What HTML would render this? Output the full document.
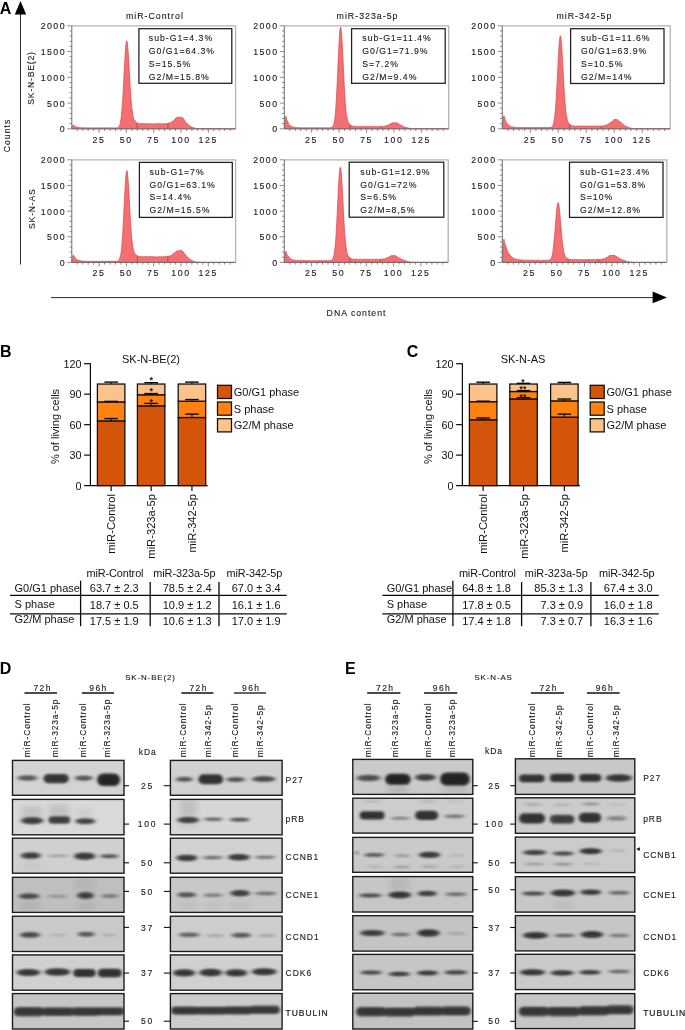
<!DOCTYPE html>
<html><head><meta charset="utf-8"><title>Figure</title>
<style>html,body{margin:0;padding:0;background:#fff}svg{display:block}text{font-family:"Liberation Sans",Arial,sans-serif}</style>
</head><body>
<svg width="685" height="1030" viewBox="0 0 685 1030">
<rect width="685" height="1030" fill="#fff"/>
<line x1="20.50" y1="10.00" x2="20.50" y2="264.50" stroke="#111" stroke-width="0.9" />
<path d="M20.5 1 L26.2 14.5 L14.8 14.5 Z" fill="#000"/>
<text x="-0.30" y="13.60" font-size="16" text-anchor="start" fill="#000" font-weight="bold" >A</text>
<text x="10.00" y="135.50" font-size="8.7" text-anchor="middle" fill="#1a1a1a" letter-spacing="1.0" stroke="#1a1a1a" stroke-width="0.12" transform="rotate(-90 10.00 135.50)" >Counts</text>
<text x="34.20" y="78.00" font-size="8.7" text-anchor="middle" fill="#1a1a1a" letter-spacing="0.75" stroke="#1a1a1a" stroke-width="0.12" transform="rotate(-90 34.20 78.00)" >SK-N-BE(2)</text>
<text x="34.90" y="208.70" font-size="8.7" text-anchor="middle" fill="#1a1a1a" letter-spacing="0.75" stroke="#1a1a1a" stroke-width="0.12" transform="rotate(-90 34.90 208.70)" >SK-N-AS</text>
<line x1="51.00" y1="297.60" x2="655.00" y2="297.60" stroke="#111" stroke-width="0.9" />
<path d="M667 297.4 L652.6 291.6 L652.6 303.2 Z" fill="#000"/>
<text x="356.50" y="315.70" font-size="8.7" text-anchor="middle" fill="#1a1a1a" letter-spacing="1.0" stroke="#1a1a1a" stroke-width="0.12" >DNA content</text>
<text x="154.90" y="19.30" font-size="8.8" text-anchor="middle" fill="#1a1a1a" letter-spacing="1.0" stroke="#1a1a1a" stroke-width="0.12" >miR-Control</text>
<text x="367.50" y="19.30" font-size="8.8" text-anchor="middle" fill="#1a1a1a" letter-spacing="1.0" stroke="#1a1a1a" stroke-width="0.12" >miR-323a-5p</text>
<text x="584.40" y="19.30" font-size="8.8" text-anchor="middle" fill="#1a1a1a" letter-spacing="1.0" stroke="#1a1a1a" stroke-width="0.12" >miR-342-5p</text>
<path d="M71.80 128.80 L71.80 127.89 L72.35 126.68 L72.89 125.23 L73.44 124.99 L73.98 125.33 L74.53 125.85 L75.08 126.32 L75.62 126.48 L76.17 126.85 L76.71 126.96 L77.26 127.20 L77.81 127.33 L78.35 127.38 L78.90 127.40 L79.44 127.59 L79.99 127.63 L80.54 127.63 L81.08 127.63 L81.63 127.71 L82.17 127.76 L82.72 127.71 L83.27 127.84 L83.81 127.76 L84.36 127.84 L84.90 127.87 L85.45 127.88 L86.00 127.86 L86.54 127.81 L87.09 127.89 L87.63 127.85 L88.18 127.84 L88.73 127.88 L89.27 127.86 L89.82 127.91 L90.36 127.92 L90.91 127.90 L91.46 127.85 L92.00 127.88 L92.55 127.89 L93.09 127.86 L93.64 127.88 L94.19 127.89 L94.73 127.84 L95.28 127.85 L95.82 127.90 L96.37 127.86 L96.92 127.87 L97.46 127.83 L98.01 127.85 L98.55 127.90 L99.10 127.82 L99.65 127.92 L100.19 127.88 L100.74 127.84 L101.28 127.91 L101.83 127.87 L102.38 127.92 L102.92 127.85 L103.47 127.84 L104.01 127.86 L104.56 127.83 L105.11 127.89 L105.65 127.85 L106.20 127.86 L106.74 127.86 L107.29 127.88 L107.84 127.84 L108.38 127.82 L108.93 127.88 L109.47 127.85 L110.02 127.92 L110.57 127.85 L111.11 127.86 L111.66 127.82 L112.20 127.84 L112.75 127.90 L113.30 127.89 L113.84 127.85 L114.39 127.92 L114.93 127.87 L115.48 127.90 L116.03 127.89 L116.57 127.86 L117.12 127.70 L117.66 127.65 L118.21 127.39 L118.76 126.90 L119.30 125.95 L119.85 124.95 L120.39 122.71 L120.94 119.52 L121.49 114.54 L122.03 108.48 L122.58 101.66 L123.12 92.54 L123.67 82.24 L124.22 71.40 L124.76 60.91 L125.31 51.76 L125.85 44.94 L126.40 41.21 L126.95 40.96 L127.49 44.10 L128.04 50.16 L128.58 58.35 L129.13 67.77 L129.68 77.56 L130.22 86.95 L130.77 95.37 L131.31 102.45 L131.86 108.10 L132.41 111.69 L132.95 115.91 L133.50 117.91 L134.04 119.54 L134.59 120.10 L135.14 120.86 L135.68 122.14 L136.23 122.54 L136.77 122.81 L137.32 123.06 L137.87 123.08 L138.41 123.17 L138.96 123.50 L139.50 123.76 L140.05 123.55 L140.60 123.63 L141.14 123.54 L141.69 123.32 L142.23 123.50 L142.78 123.62 L143.33 123.57 L143.87 123.53 L144.42 123.92 L144.96 123.40 L145.51 123.48 L146.06 123.42 L146.60 123.47 L147.15 123.72 L147.69 123.71 L148.24 123.89 L148.79 123.57 L149.33 123.92 L149.88 123.92 L150.42 123.83 L150.97 123.86 L151.52 123.75 L152.06 123.93 L152.61 123.96 L153.15 123.87 L153.70 123.90 L154.25 123.73 L154.79 123.94 L155.34 123.42 L155.88 123.58 L156.43 123.87 L156.98 123.80 L157.52 123.74 L158.07 123.73 L158.61 123.88 L159.16 123.43 L159.71 123.34 L160.25 123.67 L160.80 123.66 L161.34 123.90 L161.89 123.89 L162.44 123.74 L162.98 123.79 L163.53 123.43 L164.07 123.84 L164.62 123.92 L165.17 123.33 L165.71 123.57 L166.26 123.78 L166.80 123.49 L167.35 123.77 L167.90 123.37 L168.44 122.98 L168.99 122.93 L169.53 122.88 L170.08 123.00 L170.63 122.69 L171.17 122.57 L171.72 121.76 L172.26 121.57 L172.81 120.93 L173.36 120.89 L173.90 120.52 L174.45 119.41 L174.99 118.70 L175.54 118.36 L176.09 117.96 L176.63 117.54 L177.18 117.28 L177.72 117.69 L178.27 117.05 L178.82 117.11 L179.36 117.49 L179.91 117.49 L180.45 117.21 L181.00 117.43 L181.55 117.12 L182.09 117.18 L182.64 118.34 L183.18 118.31 L183.73 118.91 L184.28 119.65 L184.82 120.93 L185.37 121.74 L185.91 122.39 L186.46 123.04 L187.01 123.63 L187.55 123.94 L188.10 124.34 L188.64 124.88 L189.19 125.48 L189.74 125.82 L190.28 126.14 L190.83 126.67 L191.37 126.82 L191.92 127.03 L192.47 127.31 L193.01 127.54 L193.56 127.77 L194.10 127.97 L194.65 128.06 L195.20 128.23 L195.74 128.31 L196.29 128.40 L196.83 128.51 L197.38 128.57 L197.93 128.61 L198.47 128.66 L199.02 128.70 L199.56 128.72 L200.11 128.74 L200.66 128.75 L201.20 128.76 L201.75 128.77 L202.29 128.78 L202.84 128.78 L203.39 128.79 L203.93 128.79 L204.48 128.79 L205.02 128.80 L205.57 128.80 L206.12 128.80 L206.66 128.80 L207.21 128.80 L207.75 128.80 L208.30 128.80 L208.85 128.80 L209.39 128.80 L209.94 128.80 L210.48 128.80 L211.03 128.80 L211.58 128.80 L212.12 128.80 L212.67 128.80 L213.21 128.80 L213.76 128.80 L214.31 128.80 L214.85 128.80 L215.40 128.80 L215.94 128.80 L216.49 128.80 L217.04 128.80 L217.58 128.80 L218.13 128.80 L218.67 128.80 L219.22 128.80 L219.77 128.80 L220.31 128.80 L220.86 128.80 L221.40 128.80 L221.95 128.80 L222.50 128.80 L223.04 128.80 L223.59 128.80 L224.13 128.80 L224.68 128.80 L225.23 128.80 L225.77 128.80 L226.32 128.80 L226.86 128.80 L227.41 128.80 L227.96 128.80 L228.50 128.80 L229.05 128.80 L229.59 128.80 L230.14 128.80 L230.69 128.80 L231.23 128.80 L231.78 128.80 L232.32 128.80 L232.87 128.80 L233.42 128.80 L233.96 128.80 L234.51 128.80 L235.05 128.80 L235.60 128.80 L235.60 128.80 Z" fill="#f36f71" stroke="#dc4247" stroke-width="0.7" stroke-linejoin="round"/>
<line x1="137.32" y1="123.36" x2="137.32" y2="128.50" stroke="#c9343a" stroke-width="0.8" />
<line x1="167.90" y1="123.67" x2="167.90" y2="128.50" stroke="#c9343a" stroke-width="0.8" />
<path d="M71.80 25.80 H235.60 V128.80" fill="none" stroke="#b4b4b4" stroke-width="1.3"/>
<path d="M71.80 25.80 V128.80 H235.60" fill="none" stroke="#6e6e6e" stroke-width="1"/>
<line x1="67.30" y1="128.80" x2="71.80" y2="128.80" stroke="#6e6e6e" stroke-width="0.8" />
<line x1="69.50" y1="123.65" x2="71.80" y2="123.65" stroke="#6e6e6e" stroke-width="0.8" />
<line x1="69.50" y1="118.50" x2="71.80" y2="118.50" stroke="#6e6e6e" stroke-width="0.8" />
<line x1="69.50" y1="113.35" x2="71.80" y2="113.35" stroke="#6e6e6e" stroke-width="0.8" />
<line x1="69.50" y1="108.20" x2="71.80" y2="108.20" stroke="#6e6e6e" stroke-width="0.8" />
<line x1="67.30" y1="103.05" x2="71.80" y2="103.05" stroke="#6e6e6e" stroke-width="0.8" />
<line x1="69.50" y1="97.90" x2="71.80" y2="97.90" stroke="#6e6e6e" stroke-width="0.8" />
<line x1="69.50" y1="92.75" x2="71.80" y2="92.75" stroke="#6e6e6e" stroke-width="0.8" />
<line x1="69.50" y1="87.60" x2="71.80" y2="87.60" stroke="#6e6e6e" stroke-width="0.8" />
<line x1="69.50" y1="82.45" x2="71.80" y2="82.45" stroke="#6e6e6e" stroke-width="0.8" />
<line x1="67.30" y1="77.30" x2="71.80" y2="77.30" stroke="#6e6e6e" stroke-width="0.8" />
<line x1="69.50" y1="72.15" x2="71.80" y2="72.15" stroke="#6e6e6e" stroke-width="0.8" />
<line x1="69.50" y1="67.00" x2="71.80" y2="67.00" stroke="#6e6e6e" stroke-width="0.8" />
<line x1="69.50" y1="61.85" x2="71.80" y2="61.85" stroke="#6e6e6e" stroke-width="0.8" />
<line x1="69.50" y1="56.70" x2="71.80" y2="56.70" stroke="#6e6e6e" stroke-width="0.8" />
<line x1="67.30" y1="51.55" x2="71.80" y2="51.55" stroke="#6e6e6e" stroke-width="0.8" />
<line x1="69.50" y1="46.40" x2="71.80" y2="46.40" stroke="#6e6e6e" stroke-width="0.8" />
<line x1="69.50" y1="41.25" x2="71.80" y2="41.25" stroke="#6e6e6e" stroke-width="0.8" />
<line x1="69.50" y1="36.10" x2="71.80" y2="36.10" stroke="#6e6e6e" stroke-width="0.8" />
<line x1="69.50" y1="30.95" x2="71.80" y2="30.95" stroke="#6e6e6e" stroke-width="0.8" />
<line x1="67.30" y1="25.80" x2="71.80" y2="25.80" stroke="#6e6e6e" stroke-width="0.8" />
<text x="66.00" y="132.40" font-size="8.8" text-anchor="end" fill="#1a1a1a" letter-spacing="1.45" stroke="#1a1a1a" stroke-width="0.12" >0</text>
<text x="66.00" y="106.65" font-size="8.8" text-anchor="end" fill="#1a1a1a" letter-spacing="1.45" stroke="#1a1a1a" stroke-width="0.12" >500</text>
<text x="66.00" y="80.90" font-size="8.8" text-anchor="end" fill="#1a1a1a" letter-spacing="1.45" stroke="#1a1a1a" stroke-width="0.12" >1000</text>
<text x="66.00" y="55.15" font-size="8.8" text-anchor="end" fill="#1a1a1a" letter-spacing="1.45" stroke="#1a1a1a" stroke-width="0.12" >1500</text>
<text x="66.00" y="29.40" font-size="8.8" text-anchor="end" fill="#1a1a1a" letter-spacing="1.45" stroke="#1a1a1a" stroke-width="0.12" >2000</text>
<line x1="77.26" y1="128.80" x2="77.26" y2="131.00" stroke="#6e6e6e" stroke-width="0.8" />
<line x1="82.72" y1="128.80" x2="82.72" y2="131.00" stroke="#6e6e6e" stroke-width="0.8" />
<line x1="88.18" y1="128.80" x2="88.18" y2="131.00" stroke="#6e6e6e" stroke-width="0.8" />
<line x1="93.64" y1="128.80" x2="93.64" y2="131.00" stroke="#6e6e6e" stroke-width="0.8" />
<line x1="99.10" y1="128.80" x2="99.10" y2="132.80" stroke="#6e6e6e" stroke-width="0.8" />
<line x1="104.56" y1="128.80" x2="104.56" y2="131.00" stroke="#6e6e6e" stroke-width="0.8" />
<line x1="110.02" y1="128.80" x2="110.02" y2="131.00" stroke="#6e6e6e" stroke-width="0.8" />
<line x1="115.48" y1="128.80" x2="115.48" y2="131.00" stroke="#6e6e6e" stroke-width="0.8" />
<line x1="120.94" y1="128.80" x2="120.94" y2="131.00" stroke="#6e6e6e" stroke-width="0.8" />
<line x1="126.40" y1="128.80" x2="126.40" y2="132.80" stroke="#6e6e6e" stroke-width="0.8" />
<line x1="131.86" y1="128.80" x2="131.86" y2="131.00" stroke="#6e6e6e" stroke-width="0.8" />
<line x1="137.32" y1="128.80" x2="137.32" y2="131.00" stroke="#6e6e6e" stroke-width="0.8" />
<line x1="142.78" y1="128.80" x2="142.78" y2="131.00" stroke="#6e6e6e" stroke-width="0.8" />
<line x1="148.24" y1="128.80" x2="148.24" y2="131.00" stroke="#6e6e6e" stroke-width="0.8" />
<line x1="153.70" y1="128.80" x2="153.70" y2="132.80" stroke="#6e6e6e" stroke-width="0.8" />
<line x1="159.16" y1="128.80" x2="159.16" y2="131.00" stroke="#6e6e6e" stroke-width="0.8" />
<line x1="164.62" y1="128.80" x2="164.62" y2="131.00" stroke="#6e6e6e" stroke-width="0.8" />
<line x1="170.08" y1="128.80" x2="170.08" y2="131.00" stroke="#6e6e6e" stroke-width="0.8" />
<line x1="175.54" y1="128.80" x2="175.54" y2="131.00" stroke="#6e6e6e" stroke-width="0.8" />
<line x1="181.00" y1="128.80" x2="181.00" y2="132.80" stroke="#6e6e6e" stroke-width="0.8" />
<line x1="186.46" y1="128.80" x2="186.46" y2="131.00" stroke="#6e6e6e" stroke-width="0.8" />
<line x1="191.92" y1="128.80" x2="191.92" y2="131.00" stroke="#6e6e6e" stroke-width="0.8" />
<line x1="197.38" y1="128.80" x2="197.38" y2="131.00" stroke="#6e6e6e" stroke-width="0.8" />
<line x1="202.84" y1="128.80" x2="202.84" y2="131.00" stroke="#6e6e6e" stroke-width="0.8" />
<line x1="208.30" y1="128.80" x2="208.30" y2="132.80" stroke="#6e6e6e" stroke-width="0.8" />
<line x1="213.76" y1="128.80" x2="213.76" y2="131.00" stroke="#6e6e6e" stroke-width="0.8" />
<line x1="219.22" y1="128.80" x2="219.22" y2="131.00" stroke="#6e6e6e" stroke-width="0.8" />
<line x1="224.68" y1="128.80" x2="224.68" y2="131.00" stroke="#6e6e6e" stroke-width="0.8" />
<line x1="230.14" y1="128.80" x2="230.14" y2="131.00" stroke="#6e6e6e" stroke-width="0.8" />
<text x="99.00" y="142.60" font-size="8.8" text-anchor="middle" fill="#1a1a1a" letter-spacing="1.6" stroke="#1a1a1a" stroke-width="0.12" >25</text>
<text x="126.30" y="142.60" font-size="8.8" text-anchor="middle" fill="#1a1a1a" letter-spacing="1.6" stroke="#1a1a1a" stroke-width="0.12" >50</text>
<text x="153.60" y="142.60" font-size="8.8" text-anchor="middle" fill="#1a1a1a" letter-spacing="1.6" stroke="#1a1a1a" stroke-width="0.12" >75</text>
<text x="180.90" y="142.60" font-size="8.8" text-anchor="middle" fill="#1a1a1a" letter-spacing="1.6" stroke="#1a1a1a" stroke-width="0.12" >100</text>
<text x="208.20" y="142.60" font-size="8.8" text-anchor="middle" fill="#1a1a1a" letter-spacing="1.6" stroke="#1a1a1a" stroke-width="0.12" >125</text>
<rect x="138.90" y="28.70" width="92.90" height="54.60" fill="#fff" stroke="#1e1e1e" stroke-width="1.25"/>
<text x="148.80" y="41.30" font-size="8.7" text-anchor="start" fill="#1a1a1a" letter-spacing="1.0" stroke="#1a1a1a" stroke-width="0.12" >sub-G1=4.3%</text>
<text x="148.80" y="54.10" font-size="8.7" text-anchor="start" fill="#1a1a1a" letter-spacing="1.0" stroke="#1a1a1a" stroke-width="0.12" >G0/G1=64.3%</text>
<text x="148.80" y="67.00" font-size="8.7" text-anchor="start" fill="#1a1a1a" letter-spacing="1.0" stroke="#1a1a1a" stroke-width="0.12" >S=15.5%</text>
<text x="148.80" y="79.70" font-size="8.7" text-anchor="start" fill="#1a1a1a" letter-spacing="1.0" stroke="#1a1a1a" stroke-width="0.12" >G2/M=15.8%</text>
<path d="M284.30 128.80 L284.30 127.72 L284.85 123.02 L285.40 118.08 L285.94 116.06 L286.49 119.00 L287.04 120.29 L287.59 121.32 L288.14 122.55 L288.68 123.92 L289.23 124.63 L289.78 125.07 L290.33 125.70 L290.88 126.03 L291.42 126.40 L291.97 126.50 L292.52 126.70 L293.07 126.86 L293.62 127.17 L294.16 127.18 L294.71 127.29 L295.26 127.46 L295.81 127.41 L296.36 127.45 L296.90 127.61 L297.45 127.54 L298.00 127.65 L298.55 127.66 L299.10 127.61 L299.64 127.65 L300.19 127.75 L300.74 127.73 L301.29 127.73 L301.84 127.76 L302.38 127.78 L302.93 127.77 L303.48 127.72 L304.03 127.82 L304.58 127.75 L305.12 127.77 L305.67 127.82 L306.22 127.78 L306.77 127.75 L307.32 127.76 L307.86 127.82 L308.41 127.71 L308.96 127.73 L309.51 127.71 L310.06 127.82 L310.60 127.80 L311.15 127.83 L311.70 127.73 L312.25 127.80 L312.80 127.82 L313.34 127.78 L313.89 127.72 L314.44 127.73 L314.99 127.80 L315.54 127.81 L316.08 127.72 L316.63 127.76 L317.18 127.75 L317.73 127.82 L318.28 127.82 L318.82 127.75 L319.37 127.78 L319.92 127.82 L320.47 127.72 L321.02 127.75 L321.56 127.73 L322.11 127.82 L322.66 127.73 L323.21 127.82 L323.76 127.73 L324.30 127.78 L324.85 127.79 L325.40 127.76 L325.95 127.72 L326.50 127.80 L327.04 127.82 L327.59 127.77 L328.14 127.80 L328.69 127.81 L329.24 127.80 L329.78 127.80 L330.33 127.74 L330.88 127.66 L331.43 127.52 L331.98 127.18 L332.52 126.80 L333.07 125.91 L333.62 124.68 L334.17 122.43 L334.72 119.55 L335.26 114.64 L335.81 107.69 L336.36 99.29 L336.91 89.06 L337.46 77.35 L338.00 64.85 L338.55 52.53 L339.10 41.55 L339.65 33.07 L340.20 28.07 L340.74 27.10 L341.29 30.24 L341.84 37.03 L342.39 46.61 L342.94 57.89 L343.48 69.74 L344.03 81.19 L344.58 91.48 L345.13 100.19 L345.68 107.16 L346.22 113.45 L346.77 116.08 L347.32 119.18 L347.87 121.49 L348.42 122.61 L348.96 123.29 L349.51 124.49 L350.06 124.65 L350.61 125.24 L351.16 125.53 L351.70 125.65 L352.25 126.00 L352.80 126.11 L353.35 126.16 L353.90 126.15 L354.44 126.40 L354.99 126.30 L355.54 126.37 L356.09 126.41 L356.64 126.49 L357.18 126.51 L357.73 126.60 L358.28 126.58 L358.83 126.60 L359.38 126.41 L359.92 126.55 L360.47 126.58 L361.02 126.60 L361.57 126.39 L362.12 126.38 L362.66 126.44 L363.21 126.54 L363.76 126.55 L364.31 126.54 L364.86 126.49 L365.40 126.58 L365.95 126.50 L366.50 126.55 L367.05 126.35 L367.60 126.35 L368.14 126.47 L368.69 126.55 L369.24 126.35 L369.79 126.54 L370.34 126.52 L370.88 126.62 L371.43 126.52 L371.98 126.49 L372.53 126.48 L373.08 126.57 L373.62 126.48 L374.17 126.62 L374.72 126.55 L375.27 126.60 L375.82 126.51 L376.36 126.61 L376.91 126.61 L377.46 126.53 L378.01 126.55 L378.56 126.45 L379.10 126.46 L379.65 126.39 L380.20 126.41 L380.75 126.38 L381.30 126.32 L381.84 126.43 L382.39 126.42 L382.94 126.19 L383.49 126.38 L384.04 126.14 L384.58 126.07 L385.13 126.17 L385.68 125.77 L386.23 125.58 L386.78 125.50 L387.32 125.25 L387.87 124.98 L388.42 125.04 L388.97 124.60 L389.52 124.33 L390.06 123.88 L390.61 123.62 L391.16 123.34 L391.71 123.26 L392.26 122.84 L392.80 122.80 L393.35 122.64 L393.90 122.88 L394.45 122.97 L395.00 122.89 L395.54 122.77 L396.09 123.06 L396.64 122.70 L397.19 123.10 L397.74 123.31 L398.28 123.59 L398.83 123.87 L399.38 124.30 L399.93 124.88 L400.48 124.82 L401.02 125.17 L401.57 125.58 L402.12 125.85 L402.67 126.09 L403.22 126.51 L403.76 126.56 L404.31 126.89 L404.86 127.12 L405.41 127.26 L405.96 127.35 L406.50 127.60 L407.05 127.67 L407.60 127.79 L408.15 127.98 L408.70 128.11 L409.24 128.21 L409.79 128.30 L410.34 128.39 L410.89 128.47 L411.44 128.53 L411.98 128.60 L412.53 128.64 L413.08 128.67 L413.63 128.70 L414.18 128.72 L414.72 128.74 L415.27 128.76 L415.82 128.77 L416.37 128.77 L416.92 128.78 L417.46 128.78 L418.01 128.79 L418.56 128.79 L419.11 128.79 L419.66 128.79 L420.20 128.80 L420.75 128.80 L421.30 128.80 L421.85 128.80 L422.40 128.80 L422.94 128.80 L423.49 128.80 L424.04 128.80 L424.59 128.80 L425.14 128.80 L425.68 128.80 L426.23 128.80 L426.78 128.80 L427.33 128.80 L427.88 128.80 L428.42 128.80 L428.97 128.80 L429.52 128.80 L430.07 128.80 L430.62 128.80 L431.16 128.80 L431.71 128.80 L432.26 128.80 L432.81 128.80 L433.36 128.80 L433.90 128.80 L434.45 128.80 L435.00 128.80 L435.55 128.80 L436.10 128.80 L436.64 128.80 L437.19 128.80 L437.74 128.80 L438.29 128.80 L438.84 128.80 L439.38 128.80 L439.93 128.80 L440.48 128.80 L441.03 128.80 L441.58 128.80 L442.12 128.80 L442.67 128.80 L443.22 128.80 L443.77 128.80 L444.32 128.80 L444.86 128.80 L445.41 128.80 L445.96 128.80 L446.51 128.80 L447.06 128.80 L447.60 128.80 L448.15 128.80 L448.70 128.80 L448.70 128.80 Z" fill="#f36f71" stroke="#dc4247" stroke-width="0.7" stroke-linejoin="round"/>
<line x1="350.06" y1="124.95" x2="350.06" y2="128.50" stroke="#c9343a" stroke-width="0.8" />
<line x1="380.75" y1="126.68" x2="380.75" y2="128.50" stroke="#c9343a" stroke-width="0.8" />
<path d="M284.30 25.80 H448.70 V128.80" fill="none" stroke="#b4b4b4" stroke-width="1.3"/>
<path d="M284.30 25.80 V128.80 H448.70" fill="none" stroke="#6e6e6e" stroke-width="1"/>
<line x1="279.80" y1="128.80" x2="284.30" y2="128.80" stroke="#6e6e6e" stroke-width="0.8" />
<line x1="282.00" y1="123.65" x2="284.30" y2="123.65" stroke="#6e6e6e" stroke-width="0.8" />
<line x1="282.00" y1="118.50" x2="284.30" y2="118.50" stroke="#6e6e6e" stroke-width="0.8" />
<line x1="282.00" y1="113.35" x2="284.30" y2="113.35" stroke="#6e6e6e" stroke-width="0.8" />
<line x1="282.00" y1="108.20" x2="284.30" y2="108.20" stroke="#6e6e6e" stroke-width="0.8" />
<line x1="279.80" y1="103.05" x2="284.30" y2="103.05" stroke="#6e6e6e" stroke-width="0.8" />
<line x1="282.00" y1="97.90" x2="284.30" y2="97.90" stroke="#6e6e6e" stroke-width="0.8" />
<line x1="282.00" y1="92.75" x2="284.30" y2="92.75" stroke="#6e6e6e" stroke-width="0.8" />
<line x1="282.00" y1="87.60" x2="284.30" y2="87.60" stroke="#6e6e6e" stroke-width="0.8" />
<line x1="282.00" y1="82.45" x2="284.30" y2="82.45" stroke="#6e6e6e" stroke-width="0.8" />
<line x1="279.80" y1="77.30" x2="284.30" y2="77.30" stroke="#6e6e6e" stroke-width="0.8" />
<line x1="282.00" y1="72.15" x2="284.30" y2="72.15" stroke="#6e6e6e" stroke-width="0.8" />
<line x1="282.00" y1="67.00" x2="284.30" y2="67.00" stroke="#6e6e6e" stroke-width="0.8" />
<line x1="282.00" y1="61.85" x2="284.30" y2="61.85" stroke="#6e6e6e" stroke-width="0.8" />
<line x1="282.00" y1="56.70" x2="284.30" y2="56.70" stroke="#6e6e6e" stroke-width="0.8" />
<line x1="279.80" y1="51.55" x2="284.30" y2="51.55" stroke="#6e6e6e" stroke-width="0.8" />
<line x1="282.00" y1="46.40" x2="284.30" y2="46.40" stroke="#6e6e6e" stroke-width="0.8" />
<line x1="282.00" y1="41.25" x2="284.30" y2="41.25" stroke="#6e6e6e" stroke-width="0.8" />
<line x1="282.00" y1="36.10" x2="284.30" y2="36.10" stroke="#6e6e6e" stroke-width="0.8" />
<line x1="282.00" y1="30.95" x2="284.30" y2="30.95" stroke="#6e6e6e" stroke-width="0.8" />
<line x1="279.80" y1="25.80" x2="284.30" y2="25.80" stroke="#6e6e6e" stroke-width="0.8" />
<text x="278.50" y="132.40" font-size="8.8" text-anchor="end" fill="#1a1a1a" letter-spacing="1.45" stroke="#1a1a1a" stroke-width="0.12" >0</text>
<text x="278.50" y="106.65" font-size="8.8" text-anchor="end" fill="#1a1a1a" letter-spacing="1.45" stroke="#1a1a1a" stroke-width="0.12" >500</text>
<text x="278.50" y="80.90" font-size="8.8" text-anchor="end" fill="#1a1a1a" letter-spacing="1.45" stroke="#1a1a1a" stroke-width="0.12" >1000</text>
<text x="278.50" y="55.15" font-size="8.8" text-anchor="end" fill="#1a1a1a" letter-spacing="1.45" stroke="#1a1a1a" stroke-width="0.12" >1500</text>
<text x="278.50" y="29.40" font-size="8.8" text-anchor="end" fill="#1a1a1a" letter-spacing="1.45" stroke="#1a1a1a" stroke-width="0.12" >2000</text>
<line x1="289.78" y1="128.80" x2="289.78" y2="131.00" stroke="#6e6e6e" stroke-width="0.8" />
<line x1="295.26" y1="128.80" x2="295.26" y2="131.00" stroke="#6e6e6e" stroke-width="0.8" />
<line x1="300.74" y1="128.80" x2="300.74" y2="131.00" stroke="#6e6e6e" stroke-width="0.8" />
<line x1="306.22" y1="128.80" x2="306.22" y2="131.00" stroke="#6e6e6e" stroke-width="0.8" />
<line x1="311.70" y1="128.80" x2="311.70" y2="132.80" stroke="#6e6e6e" stroke-width="0.8" />
<line x1="317.18" y1="128.80" x2="317.18" y2="131.00" stroke="#6e6e6e" stroke-width="0.8" />
<line x1="322.66" y1="128.80" x2="322.66" y2="131.00" stroke="#6e6e6e" stroke-width="0.8" />
<line x1="328.14" y1="128.80" x2="328.14" y2="131.00" stroke="#6e6e6e" stroke-width="0.8" />
<line x1="333.62" y1="128.80" x2="333.62" y2="131.00" stroke="#6e6e6e" stroke-width="0.8" />
<line x1="339.10" y1="128.80" x2="339.10" y2="132.80" stroke="#6e6e6e" stroke-width="0.8" />
<line x1="344.58" y1="128.80" x2="344.58" y2="131.00" stroke="#6e6e6e" stroke-width="0.8" />
<line x1="350.06" y1="128.80" x2="350.06" y2="131.00" stroke="#6e6e6e" stroke-width="0.8" />
<line x1="355.54" y1="128.80" x2="355.54" y2="131.00" stroke="#6e6e6e" stroke-width="0.8" />
<line x1="361.02" y1="128.80" x2="361.02" y2="131.00" stroke="#6e6e6e" stroke-width="0.8" />
<line x1="366.50" y1="128.80" x2="366.50" y2="132.80" stroke="#6e6e6e" stroke-width="0.8" />
<line x1="371.98" y1="128.80" x2="371.98" y2="131.00" stroke="#6e6e6e" stroke-width="0.8" />
<line x1="377.46" y1="128.80" x2="377.46" y2="131.00" stroke="#6e6e6e" stroke-width="0.8" />
<line x1="382.94" y1="128.80" x2="382.94" y2="131.00" stroke="#6e6e6e" stroke-width="0.8" />
<line x1="388.42" y1="128.80" x2="388.42" y2="131.00" stroke="#6e6e6e" stroke-width="0.8" />
<line x1="393.90" y1="128.80" x2="393.90" y2="132.80" stroke="#6e6e6e" stroke-width="0.8" />
<line x1="399.38" y1="128.80" x2="399.38" y2="131.00" stroke="#6e6e6e" stroke-width="0.8" />
<line x1="404.86" y1="128.80" x2="404.86" y2="131.00" stroke="#6e6e6e" stroke-width="0.8" />
<line x1="410.34" y1="128.80" x2="410.34" y2="131.00" stroke="#6e6e6e" stroke-width="0.8" />
<line x1="415.82" y1="128.80" x2="415.82" y2="131.00" stroke="#6e6e6e" stroke-width="0.8" />
<line x1="421.30" y1="128.80" x2="421.30" y2="132.80" stroke="#6e6e6e" stroke-width="0.8" />
<line x1="426.78" y1="128.80" x2="426.78" y2="131.00" stroke="#6e6e6e" stroke-width="0.8" />
<line x1="432.26" y1="128.80" x2="432.26" y2="131.00" stroke="#6e6e6e" stroke-width="0.8" />
<line x1="437.74" y1="128.80" x2="437.74" y2="131.00" stroke="#6e6e6e" stroke-width="0.8" />
<line x1="443.22" y1="128.80" x2="443.22" y2="131.00" stroke="#6e6e6e" stroke-width="0.8" />
<text x="311.60" y="142.60" font-size="8.8" text-anchor="middle" fill="#1a1a1a" letter-spacing="1.6" stroke="#1a1a1a" stroke-width="0.12" >25</text>
<text x="339.00" y="142.60" font-size="8.8" text-anchor="middle" fill="#1a1a1a" letter-spacing="1.6" stroke="#1a1a1a" stroke-width="0.12" >50</text>
<text x="366.40" y="142.60" font-size="8.8" text-anchor="middle" fill="#1a1a1a" letter-spacing="1.6" stroke="#1a1a1a" stroke-width="0.12" >75</text>
<text x="393.80" y="142.60" font-size="8.8" text-anchor="middle" fill="#1a1a1a" letter-spacing="1.6" stroke="#1a1a1a" stroke-width="0.12" >100</text>
<text x="421.20" y="142.60" font-size="8.8" text-anchor="middle" fill="#1a1a1a" letter-spacing="1.6" stroke="#1a1a1a" stroke-width="0.12" >125</text>
<rect x="351.60" y="28.70" width="93.60" height="54.60" fill="#fff" stroke="#1e1e1e" stroke-width="1.25"/>
<text x="362.30" y="41.30" font-size="8.7" text-anchor="start" fill="#1a1a1a" letter-spacing="1.0" stroke="#1a1a1a" stroke-width="0.12" >sub-G1=11.4%</text>
<text x="362.30" y="54.10" font-size="8.7" text-anchor="start" fill="#1a1a1a" letter-spacing="1.0" stroke="#1a1a1a" stroke-width="0.12" >G0/G1=71.9%</text>
<text x="362.30" y="67.00" font-size="8.7" text-anchor="start" fill="#1a1a1a" letter-spacing="1.0" stroke="#1a1a1a" stroke-width="0.12" >S=7.2%</text>
<text x="362.30" y="79.70" font-size="8.7" text-anchor="start" fill="#1a1a1a" letter-spacing="1.0" stroke="#1a1a1a" stroke-width="0.12" >G2/M=9.4%</text>
<path d="M502.30 128.80 L502.30 127.46 L502.86 122.63 L503.42 116.83 L503.98 115.81 L504.54 117.92 L505.10 119.39 L505.66 121.17 L506.22 122.18 L506.78 122.75 L507.34 123.64 L507.90 124.37 L508.46 125.01 L509.02 125.35 L509.58 125.72 L510.14 126.16 L510.69 126.35 L511.25 126.73 L511.81 126.72 L512.37 126.92 L512.93 126.97 L513.49 127.08 L514.05 127.22 L514.61 127.33 L515.17 127.21 L515.73 127.40 L516.29 127.37 L516.85 127.42 L517.41 127.45 L517.97 127.39 L518.53 127.37 L519.09 127.50 L519.65 127.44 L520.21 127.51 L520.77 127.47 L521.33 127.50 L521.89 127.54 L522.45 127.55 L523.01 127.54 L523.57 127.44 L524.13 127.50 L524.69 127.55 L525.25 127.44 L525.81 127.43 L526.37 127.52 L526.93 127.57 L527.49 127.56 L528.04 127.57 L528.60 127.54 L529.16 127.57 L529.72 127.55 L530.28 127.55 L530.84 127.50 L531.40 127.45 L531.96 127.47 L532.52 127.53 L533.08 127.53 L533.64 127.51 L534.20 127.53 L534.76 127.54 L535.32 127.58 L535.88 127.55 L536.44 127.44 L537.00 127.57 L537.56 127.51 L538.12 127.49 L538.68 127.46 L539.24 127.56 L539.80 127.55 L540.36 127.55 L540.92 127.53 L541.48 127.52 L542.04 127.44 L542.60 127.46 L543.16 127.45 L543.72 127.59 L544.27 127.58 L544.83 127.48 L545.39 127.45 L545.95 127.52 L546.51 127.50 L547.07 127.59 L547.63 127.53 L548.19 127.44 L548.75 127.45 L549.31 127.43 L549.87 127.38 L550.43 127.43 L550.99 127.33 L551.55 127.09 L552.11 126.57 L552.67 125.75 L553.23 124.32 L553.79 122.37 L554.35 119.34 L554.91 114.72 L555.47 109.32 L556.03 101.57 L556.59 92.25 L557.15 81.59 L557.71 70.20 L558.27 58.97 L558.83 48.97 L559.39 41.25 L559.95 36.68 L560.51 35.79 L561.07 38.63 L561.62 44.79 L562.18 53.48 L562.74 63.71 L563.30 74.47 L563.86 84.86 L564.42 94.21 L564.98 102.13 L565.54 108.36 L566.10 114.19 L566.66 116.51 L567.22 119.77 L567.78 120.89 L568.34 122.41 L568.90 123.54 L569.46 124.27 L570.02 124.67 L570.58 124.85 L571.14 125.11 L571.70 125.58 L572.26 125.76 L572.82 125.72 L573.38 125.80 L573.94 125.94 L574.50 126.05 L575.06 125.96 L575.62 126.18 L576.18 126.10 L576.74 126.06 L577.30 125.91 L577.86 126.02 L578.41 125.94 L578.97 126.08 L579.53 126.16 L580.09 126.15 L580.65 125.92 L581.21 126.00 L581.77 126.13 L582.33 126.23 L582.89 126.07 L583.45 126.01 L584.01 126.10 L584.57 126.15 L585.13 126.02 L585.69 125.93 L586.25 126.16 L586.81 126.22 L587.37 126.12 L587.93 126.10 L588.49 126.01 L589.05 126.17 L589.61 125.97 L590.17 125.99 L590.73 126.07 L591.29 126.17 L591.85 125.92 L592.41 126.13 L592.97 125.97 L593.53 126.16 L594.09 126.16 L594.64 125.98 L595.20 126.14 L595.76 125.92 L596.32 126.07 L596.88 126.17 L597.44 126.16 L598.00 126.09 L598.56 126.01 L599.12 125.91 L599.68 126.17 L600.24 126.08 L600.80 126.12 L601.36 125.85 L601.92 126.10 L602.48 126.10 L603.04 126.05 L603.60 125.87 L604.16 125.59 L604.72 125.48 L605.28 125.40 L605.84 125.11 L606.40 124.92 L606.96 124.94 L607.52 124.73 L608.08 124.00 L608.64 123.72 L609.20 123.75 L609.76 122.90 L610.32 122.65 L610.88 122.20 L611.44 121.78 L611.99 121.49 L612.55 121.25 L613.11 120.62 L613.67 120.22 L614.23 119.31 L614.79 120.02 L615.35 118.96 L615.91 119.78 L616.47 119.67 L617.03 119.31 L617.59 119.56 L618.15 120.29 L618.71 121.05 L619.27 121.07 L619.83 121.64 L620.39 121.69 L620.95 122.78 L621.51 123.15 L622.07 123.31 L622.63 124.31 L623.19 124.53 L623.75 124.76 L624.31 125.19 L624.87 125.83 L625.43 126.14 L625.99 126.42 L626.55 126.45 L627.11 126.88 L627.67 127.01 L628.23 127.21 L628.78 127.51 L629.34 127.70 L629.90 127.79 L630.46 127.99 L631.02 128.16 L631.58 128.24 L632.14 128.37 L632.70 128.46 L633.26 128.54 L633.82 128.57 L634.38 128.62 L634.94 128.66 L635.50 128.69 L636.06 128.73 L636.62 128.74 L637.18 128.75 L637.74 128.76 L638.30 128.77 L638.86 128.78 L639.42 128.78 L639.98 128.79 L640.54 128.79 L641.10 128.79 L641.66 128.79 L642.22 128.80 L642.78 128.80 L643.34 128.80 L643.90 128.80 L644.46 128.80 L645.02 128.80 L645.57 128.80 L646.13 128.80 L646.69 128.80 L647.25 128.80 L647.81 128.80 L648.37 128.80 L648.93 128.80 L649.49 128.80 L650.05 128.80 L650.61 128.80 L651.17 128.80 L651.73 128.80 L652.29 128.80 L652.85 128.80 L653.41 128.80 L653.97 128.80 L654.53 128.80 L655.09 128.80 L655.65 128.80 L656.21 128.80 L656.77 128.80 L657.33 128.80 L657.89 128.80 L658.45 128.80 L659.01 128.80 L659.57 128.80 L660.13 128.80 L660.69 128.80 L661.25 128.80 L661.81 128.80 L662.36 128.80 L662.92 128.80 L663.48 128.80 L664.04 128.80 L664.60 128.80 L665.16 128.80 L665.72 128.80 L666.28 128.80 L666.84 128.80 L667.40 128.80 L667.96 128.80 L668.52 128.80 L669.08 128.80 L669.64 128.80 L670.20 128.80 L670.20 128.80 Z" fill="#f36f71" stroke="#dc4247" stroke-width="0.7" stroke-linejoin="round"/>
<line x1="569.46" y1="124.57" x2="569.46" y2="128.50" stroke="#c9343a" stroke-width="0.8" />
<line x1="600.80" y1="126.42" x2="600.80" y2="128.50" stroke="#c9343a" stroke-width="0.8" />
<path d="M502.30 25.80 H670.20 V128.80" fill="none" stroke="#b4b4b4" stroke-width="1.3"/>
<path d="M502.30 25.80 V128.80 H670.20" fill="none" stroke="#6e6e6e" stroke-width="1"/>
<line x1="497.80" y1="128.80" x2="502.30" y2="128.80" stroke="#6e6e6e" stroke-width="0.8" />
<line x1="500.00" y1="123.65" x2="502.30" y2="123.65" stroke="#6e6e6e" stroke-width="0.8" />
<line x1="500.00" y1="118.50" x2="502.30" y2="118.50" stroke="#6e6e6e" stroke-width="0.8" />
<line x1="500.00" y1="113.35" x2="502.30" y2="113.35" stroke="#6e6e6e" stroke-width="0.8" />
<line x1="500.00" y1="108.20" x2="502.30" y2="108.20" stroke="#6e6e6e" stroke-width="0.8" />
<line x1="497.80" y1="103.05" x2="502.30" y2="103.05" stroke="#6e6e6e" stroke-width="0.8" />
<line x1="500.00" y1="97.90" x2="502.30" y2="97.90" stroke="#6e6e6e" stroke-width="0.8" />
<line x1="500.00" y1="92.75" x2="502.30" y2="92.75" stroke="#6e6e6e" stroke-width="0.8" />
<line x1="500.00" y1="87.60" x2="502.30" y2="87.60" stroke="#6e6e6e" stroke-width="0.8" />
<line x1="500.00" y1="82.45" x2="502.30" y2="82.45" stroke="#6e6e6e" stroke-width="0.8" />
<line x1="497.80" y1="77.30" x2="502.30" y2="77.30" stroke="#6e6e6e" stroke-width="0.8" />
<line x1="500.00" y1="72.15" x2="502.30" y2="72.15" stroke="#6e6e6e" stroke-width="0.8" />
<line x1="500.00" y1="67.00" x2="502.30" y2="67.00" stroke="#6e6e6e" stroke-width="0.8" />
<line x1="500.00" y1="61.85" x2="502.30" y2="61.85" stroke="#6e6e6e" stroke-width="0.8" />
<line x1="500.00" y1="56.70" x2="502.30" y2="56.70" stroke="#6e6e6e" stroke-width="0.8" />
<line x1="497.80" y1="51.55" x2="502.30" y2="51.55" stroke="#6e6e6e" stroke-width="0.8" />
<line x1="500.00" y1="46.40" x2="502.30" y2="46.40" stroke="#6e6e6e" stroke-width="0.8" />
<line x1="500.00" y1="41.25" x2="502.30" y2="41.25" stroke="#6e6e6e" stroke-width="0.8" />
<line x1="500.00" y1="36.10" x2="502.30" y2="36.10" stroke="#6e6e6e" stroke-width="0.8" />
<line x1="500.00" y1="30.95" x2="502.30" y2="30.95" stroke="#6e6e6e" stroke-width="0.8" />
<line x1="497.80" y1="25.80" x2="502.30" y2="25.80" stroke="#6e6e6e" stroke-width="0.8" />
<text x="496.50" y="132.40" font-size="8.8" text-anchor="end" fill="#1a1a1a" letter-spacing="1.45" stroke="#1a1a1a" stroke-width="0.12" >0</text>
<text x="496.50" y="106.65" font-size="8.8" text-anchor="end" fill="#1a1a1a" letter-spacing="1.45" stroke="#1a1a1a" stroke-width="0.12" >500</text>
<text x="496.50" y="80.90" font-size="8.8" text-anchor="end" fill="#1a1a1a" letter-spacing="1.45" stroke="#1a1a1a" stroke-width="0.12" >1000</text>
<text x="496.50" y="55.15" font-size="8.8" text-anchor="end" fill="#1a1a1a" letter-spacing="1.45" stroke="#1a1a1a" stroke-width="0.12" >1500</text>
<text x="496.50" y="29.40" font-size="8.8" text-anchor="end" fill="#1a1a1a" letter-spacing="1.45" stroke="#1a1a1a" stroke-width="0.12" >2000</text>
<line x1="507.90" y1="128.80" x2="507.90" y2="131.00" stroke="#6e6e6e" stroke-width="0.8" />
<line x1="513.49" y1="128.80" x2="513.49" y2="131.00" stroke="#6e6e6e" stroke-width="0.8" />
<line x1="519.09" y1="128.80" x2="519.09" y2="131.00" stroke="#6e6e6e" stroke-width="0.8" />
<line x1="524.69" y1="128.80" x2="524.69" y2="131.00" stroke="#6e6e6e" stroke-width="0.8" />
<line x1="530.28" y1="128.80" x2="530.28" y2="132.80" stroke="#6e6e6e" stroke-width="0.8" />
<line x1="535.88" y1="128.80" x2="535.88" y2="131.00" stroke="#6e6e6e" stroke-width="0.8" />
<line x1="541.48" y1="128.80" x2="541.48" y2="131.00" stroke="#6e6e6e" stroke-width="0.8" />
<line x1="547.07" y1="128.80" x2="547.07" y2="131.00" stroke="#6e6e6e" stroke-width="0.8" />
<line x1="552.67" y1="128.80" x2="552.67" y2="131.00" stroke="#6e6e6e" stroke-width="0.8" />
<line x1="558.27" y1="128.80" x2="558.27" y2="132.80" stroke="#6e6e6e" stroke-width="0.8" />
<line x1="563.86" y1="128.80" x2="563.86" y2="131.00" stroke="#6e6e6e" stroke-width="0.8" />
<line x1="569.46" y1="128.80" x2="569.46" y2="131.00" stroke="#6e6e6e" stroke-width="0.8" />
<line x1="575.06" y1="128.80" x2="575.06" y2="131.00" stroke="#6e6e6e" stroke-width="0.8" />
<line x1="580.65" y1="128.80" x2="580.65" y2="131.00" stroke="#6e6e6e" stroke-width="0.8" />
<line x1="586.25" y1="128.80" x2="586.25" y2="132.80" stroke="#6e6e6e" stroke-width="0.8" />
<line x1="591.85" y1="128.80" x2="591.85" y2="131.00" stroke="#6e6e6e" stroke-width="0.8" />
<line x1="597.44" y1="128.80" x2="597.44" y2="131.00" stroke="#6e6e6e" stroke-width="0.8" />
<line x1="603.04" y1="128.80" x2="603.04" y2="131.00" stroke="#6e6e6e" stroke-width="0.8" />
<line x1="608.64" y1="128.80" x2="608.64" y2="131.00" stroke="#6e6e6e" stroke-width="0.8" />
<line x1="614.23" y1="128.80" x2="614.23" y2="132.80" stroke="#6e6e6e" stroke-width="0.8" />
<line x1="619.83" y1="128.80" x2="619.83" y2="131.00" stroke="#6e6e6e" stroke-width="0.8" />
<line x1="625.43" y1="128.80" x2="625.43" y2="131.00" stroke="#6e6e6e" stroke-width="0.8" />
<line x1="631.02" y1="128.80" x2="631.02" y2="131.00" stroke="#6e6e6e" stroke-width="0.8" />
<line x1="636.62" y1="128.80" x2="636.62" y2="131.00" stroke="#6e6e6e" stroke-width="0.8" />
<line x1="642.22" y1="128.80" x2="642.22" y2="132.80" stroke="#6e6e6e" stroke-width="0.8" />
<line x1="647.81" y1="128.80" x2="647.81" y2="131.00" stroke="#6e6e6e" stroke-width="0.8" />
<line x1="653.41" y1="128.80" x2="653.41" y2="131.00" stroke="#6e6e6e" stroke-width="0.8" />
<line x1="659.01" y1="128.80" x2="659.01" y2="131.00" stroke="#6e6e6e" stroke-width="0.8" />
<line x1="664.60" y1="128.80" x2="664.60" y2="131.00" stroke="#6e6e6e" stroke-width="0.8" />
<text x="530.18" y="142.60" font-size="8.8" text-anchor="middle" fill="#1a1a1a" letter-spacing="1.6" stroke="#1a1a1a" stroke-width="0.12" >25</text>
<text x="558.17" y="142.60" font-size="8.8" text-anchor="middle" fill="#1a1a1a" letter-spacing="1.6" stroke="#1a1a1a" stroke-width="0.12" >50</text>
<text x="586.15" y="142.60" font-size="8.8" text-anchor="middle" fill="#1a1a1a" letter-spacing="1.6" stroke="#1a1a1a" stroke-width="0.12" >75</text>
<text x="614.13" y="142.60" font-size="8.8" text-anchor="middle" fill="#1a1a1a" letter-spacing="1.6" stroke="#1a1a1a" stroke-width="0.12" >100</text>
<text x="642.12" y="142.60" font-size="8.8" text-anchor="middle" fill="#1a1a1a" letter-spacing="1.6" stroke="#1a1a1a" stroke-width="0.12" >125</text>
<rect x="570.60" y="28.70" width="93.40" height="54.80" fill="#fff" stroke="#1e1e1e" stroke-width="1.25"/>
<text x="580.90" y="41.30" font-size="8.7" text-anchor="start" fill="#1a1a1a" letter-spacing="1.0" stroke="#1a1a1a" stroke-width="0.12" >sub-G1=11.6%</text>
<text x="580.90" y="54.10" font-size="8.7" text-anchor="start" fill="#1a1a1a" letter-spacing="1.0" stroke="#1a1a1a" stroke-width="0.12" >G0/G1=63.9%</text>
<text x="580.90" y="67.00" font-size="8.7" text-anchor="start" fill="#1a1a1a" letter-spacing="1.0" stroke="#1a1a1a" stroke-width="0.12" >S=10.5%</text>
<text x="580.90" y="79.70" font-size="8.7" text-anchor="start" fill="#1a1a1a" letter-spacing="1.0" stroke="#1a1a1a" stroke-width="0.12" >G2/M=14%</text>
<path d="M71.80 262.40 L71.80 261.25 L72.35 258.38 L72.89 256.24 L73.44 254.88 L73.98 255.78 L74.53 256.75 L75.08 257.52 L75.62 258.61 L76.17 259.00 L76.71 259.48 L77.26 259.79 L77.81 259.84 L78.35 260.19 L78.90 260.30 L79.44 260.59 L79.99 260.61 L80.54 260.80 L81.08 260.93 L81.63 260.90 L82.17 260.94 L82.72 261.12 L83.27 261.08 L83.81 261.11 L84.36 261.20 L84.90 261.19 L85.45 261.24 L86.00 261.25 L86.54 261.25 L87.09 261.21 L87.63 261.21 L88.18 261.28 L88.73 261.32 L89.27 261.28 L89.82 261.23 L90.36 261.30 L90.91 261.29 L91.46 261.30 L92.00 261.22 L92.55 261.26 L93.09 261.33 L93.64 261.32 L94.19 261.28 L94.73 261.26 L95.28 261.25 L95.82 261.33 L96.37 261.32 L96.92 261.24 L97.46 261.28 L98.01 261.30 L98.55 261.30 L99.10 261.21 L99.65 261.30 L100.19 261.26 L100.74 261.29 L101.28 261.28 L101.83 261.22 L102.38 261.20 L102.92 261.29 L103.47 261.31 L104.01 261.24 L104.56 261.31 L105.11 261.34 L105.65 261.22 L106.20 261.28 L106.74 261.23 L107.29 261.28 L107.84 261.22 L108.38 261.28 L108.93 261.32 L109.47 261.34 L110.02 261.26 L110.57 261.25 L111.11 261.22 L111.66 261.33 L112.20 261.25 L112.75 261.29 L113.30 261.27 L113.84 261.32 L114.39 261.30 L114.93 261.26 L115.48 261.20 L116.03 261.30 L116.57 261.21 L117.12 261.10 L117.66 260.95 L118.21 260.84 L118.76 260.44 L119.30 259.45 L119.85 258.12 L120.39 256.38 L120.94 253.86 L121.49 248.41 L122.03 243.50 L122.58 235.70 L123.12 226.51 L123.67 216.00 L124.22 204.76 L124.76 193.69 L125.31 183.80 L125.85 176.15 L126.40 171.57 L126.95 170.56 L127.49 173.14 L128.04 178.88 L128.58 187.00 L129.13 196.59 L129.68 206.73 L130.22 216.62 L130.77 225.60 L131.31 233.25 L131.86 239.42 L132.41 243.28 L132.95 247.45 L133.50 249.69 L134.04 252.35 L134.59 252.85 L135.14 254.32 L135.68 254.76 L136.23 254.85 L136.77 255.24 L137.32 256.05 L137.87 256.23 L138.41 256.26 L138.96 256.31 L139.50 256.50 L140.05 256.76 L140.60 256.72 L141.14 256.42 L141.69 256.33 L142.23 256.94 L142.78 256.59 L143.33 256.46 L143.87 256.97 L144.42 256.42 L144.96 256.92 L145.51 256.58 L146.06 256.62 L146.60 256.57 L147.15 256.79 L147.69 256.71 L148.24 256.60 L148.79 256.71 L149.33 256.54 L149.88 256.69 L150.42 256.70 L150.97 256.98 L151.52 256.57 L152.06 256.66 L152.61 256.84 L153.15 256.47 L153.70 256.46 L154.25 256.68 L154.79 256.88 L155.34 256.67 L155.88 256.93 L156.43 256.91 L156.98 256.70 L157.52 256.94 L158.07 256.69 L158.61 256.65 L159.16 256.97 L159.71 256.56 L160.25 256.94 L160.80 256.49 L161.34 256.46 L161.89 256.64 L162.44 256.96 L162.98 256.65 L163.53 256.73 L164.07 256.33 L164.62 256.88 L165.17 256.37 L165.71 256.25 L166.26 256.41 L166.80 256.32 L167.35 256.71 L167.90 256.08 L168.44 256.35 L168.99 255.90 L169.53 255.78 L170.08 256.18 L170.63 255.47 L171.17 255.09 L171.72 255.52 L172.26 254.93 L172.81 254.15 L173.36 254.31 L173.90 253.08 L174.45 253.28 L174.99 252.18 L175.54 252.54 L176.09 251.68 L176.63 250.74 L177.18 251.37 L177.72 251.02 L178.27 250.46 L178.82 250.56 L179.36 250.88 L179.91 250.64 L180.45 250.74 L181.00 249.78 L181.55 250.42 L182.09 250.49 L182.64 251.92 L183.18 251.67 L183.73 253.08 L184.28 253.24 L184.82 253.82 L185.37 254.77 L185.91 255.01 L186.46 255.95 L187.01 256.57 L187.55 256.98 L188.10 257.99 L188.64 258.03 L189.19 258.68 L189.74 259.20 L190.28 259.44 L190.83 259.95 L191.37 260.07 L191.92 260.46 L192.47 260.77 L193.01 260.93 L193.56 261.20 L194.10 261.42 L194.65 261.53 L195.20 261.74 L195.74 261.81 L196.29 261.96 L196.83 262.03 L197.38 262.10 L197.93 262.17 L198.47 262.22 L199.02 262.27 L199.56 262.30 L200.11 262.33 L200.66 262.34 L201.20 262.35 L201.75 262.37 L202.29 262.37 L202.84 262.38 L203.39 262.39 L203.93 262.39 L204.48 262.39 L205.02 262.39 L205.57 262.40 L206.12 262.40 L206.66 262.40 L207.21 262.40 L207.75 262.40 L208.30 262.40 L208.85 262.40 L209.39 262.40 L209.94 262.40 L210.48 262.40 L211.03 262.40 L211.58 262.40 L212.12 262.40 L212.67 262.40 L213.21 262.40 L213.76 262.40 L214.31 262.40 L214.85 262.40 L215.40 262.40 L215.94 262.40 L216.49 262.40 L217.04 262.40 L217.58 262.40 L218.13 262.40 L218.67 262.40 L219.22 262.40 L219.77 262.40 L220.31 262.40 L220.86 262.40 L221.40 262.40 L221.95 262.40 L222.50 262.40 L223.04 262.40 L223.59 262.40 L224.13 262.40 L224.68 262.40 L225.23 262.40 L225.77 262.40 L226.32 262.40 L226.86 262.40 L227.41 262.40 L227.96 262.40 L228.50 262.40 L229.05 262.40 L229.59 262.40 L230.14 262.40 L230.69 262.40 L231.23 262.40 L231.78 262.40 L232.32 262.40 L232.87 262.40 L233.42 262.40 L233.96 262.40 L234.51 262.40 L235.05 262.40 L235.60 262.40 L235.60 262.40 Z" fill="#f36f71" stroke="#dc4247" stroke-width="0.7" stroke-linejoin="round"/>
<line x1="137.32" y1="256.35" x2="137.32" y2="262.10" stroke="#c9343a" stroke-width="0.8" />
<line x1="167.90" y1="256.38" x2="167.90" y2="262.10" stroke="#c9343a" stroke-width="0.8" />
<path d="M71.80 159.80 H235.60 V262.40" fill="none" stroke="#b4b4b4" stroke-width="1.3"/>
<path d="M71.80 159.80 V262.40 H235.60" fill="none" stroke="#6e6e6e" stroke-width="1"/>
<line x1="67.30" y1="262.40" x2="71.80" y2="262.40" stroke="#6e6e6e" stroke-width="0.8" />
<line x1="69.50" y1="257.27" x2="71.80" y2="257.27" stroke="#6e6e6e" stroke-width="0.8" />
<line x1="69.50" y1="252.14" x2="71.80" y2="252.14" stroke="#6e6e6e" stroke-width="0.8" />
<line x1="69.50" y1="247.01" x2="71.80" y2="247.01" stroke="#6e6e6e" stroke-width="0.8" />
<line x1="69.50" y1="241.88" x2="71.80" y2="241.88" stroke="#6e6e6e" stroke-width="0.8" />
<line x1="67.30" y1="236.75" x2="71.80" y2="236.75" stroke="#6e6e6e" stroke-width="0.8" />
<line x1="69.50" y1="231.62" x2="71.80" y2="231.62" stroke="#6e6e6e" stroke-width="0.8" />
<line x1="69.50" y1="226.49" x2="71.80" y2="226.49" stroke="#6e6e6e" stroke-width="0.8" />
<line x1="69.50" y1="221.36" x2="71.80" y2="221.36" stroke="#6e6e6e" stroke-width="0.8" />
<line x1="69.50" y1="216.23" x2="71.80" y2="216.23" stroke="#6e6e6e" stroke-width="0.8" />
<line x1="67.30" y1="211.10" x2="71.80" y2="211.10" stroke="#6e6e6e" stroke-width="0.8" />
<line x1="69.50" y1="205.97" x2="71.80" y2="205.97" stroke="#6e6e6e" stroke-width="0.8" />
<line x1="69.50" y1="200.84" x2="71.80" y2="200.84" stroke="#6e6e6e" stroke-width="0.8" />
<line x1="69.50" y1="195.71" x2="71.80" y2="195.71" stroke="#6e6e6e" stroke-width="0.8" />
<line x1="69.50" y1="190.58" x2="71.80" y2="190.58" stroke="#6e6e6e" stroke-width="0.8" />
<line x1="67.30" y1="185.45" x2="71.80" y2="185.45" stroke="#6e6e6e" stroke-width="0.8" />
<line x1="69.50" y1="180.32" x2="71.80" y2="180.32" stroke="#6e6e6e" stroke-width="0.8" />
<line x1="69.50" y1="175.19" x2="71.80" y2="175.19" stroke="#6e6e6e" stroke-width="0.8" />
<line x1="69.50" y1="170.06" x2="71.80" y2="170.06" stroke="#6e6e6e" stroke-width="0.8" />
<line x1="69.50" y1="164.93" x2="71.80" y2="164.93" stroke="#6e6e6e" stroke-width="0.8" />
<line x1="67.30" y1="159.80" x2="71.80" y2="159.80" stroke="#6e6e6e" stroke-width="0.8" />
<text x="66.00" y="266.00" font-size="8.8" text-anchor="end" fill="#1a1a1a" letter-spacing="1.45" stroke="#1a1a1a" stroke-width="0.12" >0</text>
<text x="66.00" y="240.35" font-size="8.8" text-anchor="end" fill="#1a1a1a" letter-spacing="1.45" stroke="#1a1a1a" stroke-width="0.12" >500</text>
<text x="66.00" y="214.70" font-size="8.8" text-anchor="end" fill="#1a1a1a" letter-spacing="1.45" stroke="#1a1a1a" stroke-width="0.12" >1000</text>
<text x="66.00" y="189.05" font-size="8.8" text-anchor="end" fill="#1a1a1a" letter-spacing="1.45" stroke="#1a1a1a" stroke-width="0.12" >1500</text>
<text x="66.00" y="163.40" font-size="8.8" text-anchor="end" fill="#1a1a1a" letter-spacing="1.45" stroke="#1a1a1a" stroke-width="0.12" >2000</text>
<line x1="77.26" y1="262.40" x2="77.26" y2="264.60" stroke="#6e6e6e" stroke-width="0.8" />
<line x1="82.72" y1="262.40" x2="82.72" y2="264.60" stroke="#6e6e6e" stroke-width="0.8" />
<line x1="88.18" y1="262.40" x2="88.18" y2="264.60" stroke="#6e6e6e" stroke-width="0.8" />
<line x1="93.64" y1="262.40" x2="93.64" y2="264.60" stroke="#6e6e6e" stroke-width="0.8" />
<line x1="99.10" y1="262.40" x2="99.10" y2="266.40" stroke="#6e6e6e" stroke-width="0.8" />
<line x1="104.56" y1="262.40" x2="104.56" y2="264.60" stroke="#6e6e6e" stroke-width="0.8" />
<line x1="110.02" y1="262.40" x2="110.02" y2="264.60" stroke="#6e6e6e" stroke-width="0.8" />
<line x1="115.48" y1="262.40" x2="115.48" y2="264.60" stroke="#6e6e6e" stroke-width="0.8" />
<line x1="120.94" y1="262.40" x2="120.94" y2="264.60" stroke="#6e6e6e" stroke-width="0.8" />
<line x1="126.40" y1="262.40" x2="126.40" y2="266.40" stroke="#6e6e6e" stroke-width="0.8" />
<line x1="131.86" y1="262.40" x2="131.86" y2="264.60" stroke="#6e6e6e" stroke-width="0.8" />
<line x1="137.32" y1="262.40" x2="137.32" y2="264.60" stroke="#6e6e6e" stroke-width="0.8" />
<line x1="142.78" y1="262.40" x2="142.78" y2="264.60" stroke="#6e6e6e" stroke-width="0.8" />
<line x1="148.24" y1="262.40" x2="148.24" y2="264.60" stroke="#6e6e6e" stroke-width="0.8" />
<line x1="153.70" y1="262.40" x2="153.70" y2="266.40" stroke="#6e6e6e" stroke-width="0.8" />
<line x1="159.16" y1="262.40" x2="159.16" y2="264.60" stroke="#6e6e6e" stroke-width="0.8" />
<line x1="164.62" y1="262.40" x2="164.62" y2="264.60" stroke="#6e6e6e" stroke-width="0.8" />
<line x1="170.08" y1="262.40" x2="170.08" y2="264.60" stroke="#6e6e6e" stroke-width="0.8" />
<line x1="175.54" y1="262.40" x2="175.54" y2="264.60" stroke="#6e6e6e" stroke-width="0.8" />
<line x1="181.00" y1="262.40" x2="181.00" y2="266.40" stroke="#6e6e6e" stroke-width="0.8" />
<line x1="186.46" y1="262.40" x2="186.46" y2="264.60" stroke="#6e6e6e" stroke-width="0.8" />
<line x1="191.92" y1="262.40" x2="191.92" y2="264.60" stroke="#6e6e6e" stroke-width="0.8" />
<line x1="197.38" y1="262.40" x2="197.38" y2="264.60" stroke="#6e6e6e" stroke-width="0.8" />
<line x1="202.84" y1="262.40" x2="202.84" y2="264.60" stroke="#6e6e6e" stroke-width="0.8" />
<line x1="208.30" y1="262.40" x2="208.30" y2="266.40" stroke="#6e6e6e" stroke-width="0.8" />
<line x1="213.76" y1="262.40" x2="213.76" y2="264.60" stroke="#6e6e6e" stroke-width="0.8" />
<line x1="219.22" y1="262.40" x2="219.22" y2="264.60" stroke="#6e6e6e" stroke-width="0.8" />
<line x1="224.68" y1="262.40" x2="224.68" y2="264.60" stroke="#6e6e6e" stroke-width="0.8" />
<line x1="230.14" y1="262.40" x2="230.14" y2="264.60" stroke="#6e6e6e" stroke-width="0.8" />
<text x="99.00" y="276.20" font-size="8.8" text-anchor="middle" fill="#1a1a1a" letter-spacing="1.6" stroke="#1a1a1a" stroke-width="0.12" >25</text>
<text x="126.30" y="276.20" font-size="8.8" text-anchor="middle" fill="#1a1a1a" letter-spacing="1.6" stroke="#1a1a1a" stroke-width="0.12" >50</text>
<text x="153.60" y="276.20" font-size="8.8" text-anchor="middle" fill="#1a1a1a" letter-spacing="1.6" stroke="#1a1a1a" stroke-width="0.12" >75</text>
<text x="180.90" y="276.20" font-size="8.8" text-anchor="middle" fill="#1a1a1a" letter-spacing="1.6" stroke="#1a1a1a" stroke-width="0.12" >100</text>
<text x="208.20" y="276.20" font-size="8.8" text-anchor="middle" fill="#1a1a1a" letter-spacing="1.6" stroke="#1a1a1a" stroke-width="0.12" >125</text>
<rect x="139.40" y="162.40" width="92.90" height="55.00" fill="#fff" stroke="#1e1e1e" stroke-width="1.25"/>
<text x="149.50" y="175.00" font-size="8.7" text-anchor="start" fill="#1a1a1a" letter-spacing="1.0" stroke="#1a1a1a" stroke-width="0.12" >sub-G1=7%</text>
<text x="149.50" y="187.60" font-size="8.7" text-anchor="start" fill="#1a1a1a" letter-spacing="1.0" stroke="#1a1a1a" stroke-width="0.12" >G0/G1=63.1%</text>
<text x="149.50" y="200.30" font-size="8.7" text-anchor="start" fill="#1a1a1a" letter-spacing="1.0" stroke="#1a1a1a" stroke-width="0.12" >S=14.4%</text>
<text x="149.50" y="213.20" font-size="8.7" text-anchor="start" fill="#1a1a1a" letter-spacing="1.0" stroke="#1a1a1a" stroke-width="0.12" >G2/M=15.5%</text>
<path d="M284.30 262.40 L284.30 260.55 L284.85 256.47 L285.39 252.60 L285.94 251.16 L286.49 252.74 L287.03 254.37 L287.58 255.26 L288.12 255.92 L288.67 256.80 L289.22 257.39 L289.76 258.03 L290.31 258.69 L290.86 258.93 L291.40 259.27 L291.95 259.40 L292.50 259.69 L293.04 259.93 L293.59 259.96 L294.13 259.98 L294.68 260.27 L295.23 260.17 L295.77 260.45 L296.32 260.44 L296.87 260.48 L297.41 260.40 L297.96 260.38 L298.50 260.45 L299.05 260.56 L299.60 260.45 L300.14 260.59 L300.69 260.62 L301.24 260.48 L301.78 260.55 L302.33 260.54 L302.88 260.55 L303.42 260.48 L303.97 260.60 L304.51 260.52 L305.06 260.55 L305.61 260.52 L306.15 260.61 L306.70 260.55 L307.25 260.59 L307.79 260.64 L308.34 260.66 L308.88 260.58 L309.43 260.69 L309.98 260.51 L310.52 260.68 L311.07 260.71 L311.62 260.69 L312.16 260.51 L312.71 260.64 L313.26 260.68 L313.80 260.71 L314.35 260.70 L314.89 260.56 L315.44 260.58 L315.99 260.56 L316.53 260.55 L317.08 260.70 L317.63 260.58 L318.17 260.63 L318.72 260.54 L319.27 260.54 L319.81 260.52 L320.36 260.70 L320.90 260.53 L321.45 260.52 L322.00 260.51 L322.54 260.69 L323.09 260.67 L323.64 260.69 L324.18 260.70 L324.73 260.53 L325.27 260.54 L325.82 260.58 L326.37 260.53 L326.91 260.58 L327.46 260.65 L328.01 260.69 L328.55 260.68 L329.10 260.53 L329.65 260.64 L330.19 260.57 L330.74 260.48 L331.28 260.43 L331.83 260.10 L332.38 259.60 L332.92 258.57 L333.47 257.32 L334.02 255.17 L334.56 251.07 L335.11 246.92 L335.66 240.54 L336.20 232.38 L336.75 222.57 L337.29 211.48 L337.84 199.82 L338.39 188.54 L338.93 178.72 L339.48 171.43 L340.03 167.50 L340.57 167.38 L341.12 171.01 L341.67 177.90 L342.21 187.19 L342.76 197.84 L343.30 208.82 L343.85 219.28 L344.40 228.56 L344.94 236.32 L345.49 241.65 L346.04 246.95 L346.58 251.24 L347.13 253.11 L347.67 254.77 L348.22 255.70 L348.77 256.87 L349.31 257.26 L349.86 257.83 L350.41 258.35 L350.95 258.31 L351.50 258.88 L352.05 258.73 L352.59 259.13 L353.14 259.29 L353.68 259.28 L354.23 259.11 L354.78 259.07 L355.32 259.46 L355.87 259.30 L356.42 259.31 L356.96 259.20 L357.51 259.43 L358.06 259.32 L358.60 259.38 L359.15 259.20 L359.69 259.41 L360.24 259.16 L360.79 259.40 L361.33 259.43 L361.88 259.25 L362.43 259.32 L362.97 259.47 L363.52 259.27 L364.06 259.48 L364.61 259.22 L365.16 259.25 L365.70 259.22 L366.25 259.27 L366.80 259.38 L367.34 259.36 L367.89 259.36 L368.44 259.18 L368.98 259.47 L369.53 259.18 L370.07 259.50 L370.62 259.43 L371.17 259.41 L371.71 259.17 L372.26 259.32 L372.81 259.37 L373.35 259.18 L373.90 259.42 L374.44 259.34 L374.99 259.31 L375.54 259.23 L376.08 259.23 L376.63 259.26 L377.18 259.37 L377.72 259.37 L378.27 259.43 L378.82 259.17 L379.36 259.22 L379.91 259.18 L380.45 259.37 L381.00 259.24 L381.55 259.06 L382.09 259.09 L382.64 259.20 L383.19 258.98 L383.73 258.69 L384.28 258.84 L384.83 258.71 L385.37 258.49 L385.92 258.09 L386.46 257.78 L387.01 257.91 L387.56 257.66 L388.10 257.34 L388.65 257.03 L389.20 256.63 L389.74 256.64 L390.29 256.30 L390.83 256.20 L391.38 255.40 L391.93 255.45 L392.47 255.86 L393.02 255.10 L393.57 255.81 L394.11 255.62 L394.66 255.24 L395.21 255.56 L395.75 255.82 L396.30 256.29 L396.84 256.74 L397.39 256.74 L397.94 257.41 L398.48 257.66 L399.03 257.88 L399.58 258.38 L400.12 258.51 L400.67 258.63 L401.22 258.96 L401.76 259.30 L402.31 259.51 L402.85 259.80 L403.40 260.11 L403.95 260.20 L404.49 260.46 L405.04 260.58 L405.59 260.75 L406.13 261.03 L406.68 261.19 L407.23 261.34 L407.77 261.53 L408.32 261.69 L408.86 261.78 L409.41 261.88 L409.96 261.98 L410.50 262.07 L411.05 262.13 L411.60 262.19 L412.14 262.24 L412.69 262.28 L413.23 262.31 L413.78 262.32 L414.33 262.34 L414.87 262.36 L415.42 262.36 L415.97 262.37 L416.51 262.38 L417.06 262.38 L417.61 262.39 L418.15 262.39 L418.70 262.39 L419.24 262.39 L419.79 262.40 L420.34 262.40 L420.88 262.40 L421.43 262.40 L421.98 262.40 L422.52 262.40 L423.07 262.40 L423.62 262.40 L424.16 262.40 L424.71 262.40 L425.25 262.40 L425.80 262.40 L426.35 262.40 L426.89 262.40 L427.44 262.40 L427.99 262.40 L428.53 262.40 L429.08 262.40 L429.62 262.40 L430.17 262.40 L430.72 262.40 L431.26 262.40 L431.81 262.40 L432.36 262.40 L432.90 262.40 L433.45 262.40 L434.00 262.40 L434.54 262.40 L435.09 262.40 L435.63 262.40 L436.18 262.40 L436.73 262.40 L437.27 262.40 L437.82 262.40 L438.37 262.40 L438.91 262.40 L439.46 262.40 L440.00 262.40 L440.55 262.40 L441.10 262.40 L441.64 262.40 L442.19 262.40 L442.74 262.40 L443.28 262.40 L443.83 262.40 L444.38 262.40 L444.92 262.40 L445.47 262.40 L446.01 262.40 L446.56 262.40 L447.11 262.40 L447.65 262.40 L448.20 262.40 L448.20 262.40 Z" fill="#f36f71" stroke="#dc4247" stroke-width="0.7" stroke-linejoin="round"/>
<line x1="349.86" y1="258.13" x2="349.86" y2="262.10" stroke="#c9343a" stroke-width="0.8" />
<line x1="380.45" y1="259.67" x2="380.45" y2="262.10" stroke="#c9343a" stroke-width="0.8" />
<path d="M284.30 159.80 H448.20 V262.40" fill="none" stroke="#b4b4b4" stroke-width="1.3"/>
<path d="M284.30 159.80 V262.40 H448.20" fill="none" stroke="#6e6e6e" stroke-width="1"/>
<line x1="279.80" y1="262.40" x2="284.30" y2="262.40" stroke="#6e6e6e" stroke-width="0.8" />
<line x1="282.00" y1="257.27" x2="284.30" y2="257.27" stroke="#6e6e6e" stroke-width="0.8" />
<line x1="282.00" y1="252.14" x2="284.30" y2="252.14" stroke="#6e6e6e" stroke-width="0.8" />
<line x1="282.00" y1="247.01" x2="284.30" y2="247.01" stroke="#6e6e6e" stroke-width="0.8" />
<line x1="282.00" y1="241.88" x2="284.30" y2="241.88" stroke="#6e6e6e" stroke-width="0.8" />
<line x1="279.80" y1="236.75" x2="284.30" y2="236.75" stroke="#6e6e6e" stroke-width="0.8" />
<line x1="282.00" y1="231.62" x2="284.30" y2="231.62" stroke="#6e6e6e" stroke-width="0.8" />
<line x1="282.00" y1="226.49" x2="284.30" y2="226.49" stroke="#6e6e6e" stroke-width="0.8" />
<line x1="282.00" y1="221.36" x2="284.30" y2="221.36" stroke="#6e6e6e" stroke-width="0.8" />
<line x1="282.00" y1="216.23" x2="284.30" y2="216.23" stroke="#6e6e6e" stroke-width="0.8" />
<line x1="279.80" y1="211.10" x2="284.30" y2="211.10" stroke="#6e6e6e" stroke-width="0.8" />
<line x1="282.00" y1="205.97" x2="284.30" y2="205.97" stroke="#6e6e6e" stroke-width="0.8" />
<line x1="282.00" y1="200.84" x2="284.30" y2="200.84" stroke="#6e6e6e" stroke-width="0.8" />
<line x1="282.00" y1="195.71" x2="284.30" y2="195.71" stroke="#6e6e6e" stroke-width="0.8" />
<line x1="282.00" y1="190.58" x2="284.30" y2="190.58" stroke="#6e6e6e" stroke-width="0.8" />
<line x1="279.80" y1="185.45" x2="284.30" y2="185.45" stroke="#6e6e6e" stroke-width="0.8" />
<line x1="282.00" y1="180.32" x2="284.30" y2="180.32" stroke="#6e6e6e" stroke-width="0.8" />
<line x1="282.00" y1="175.19" x2="284.30" y2="175.19" stroke="#6e6e6e" stroke-width="0.8" />
<line x1="282.00" y1="170.06" x2="284.30" y2="170.06" stroke="#6e6e6e" stroke-width="0.8" />
<line x1="282.00" y1="164.93" x2="284.30" y2="164.93" stroke="#6e6e6e" stroke-width="0.8" />
<line x1="279.80" y1="159.80" x2="284.30" y2="159.80" stroke="#6e6e6e" stroke-width="0.8" />
<text x="278.50" y="266.00" font-size="8.8" text-anchor="end" fill="#1a1a1a" letter-spacing="1.45" stroke="#1a1a1a" stroke-width="0.12" >0</text>
<text x="278.50" y="240.35" font-size="8.8" text-anchor="end" fill="#1a1a1a" letter-spacing="1.45" stroke="#1a1a1a" stroke-width="0.12" >500</text>
<text x="278.50" y="214.70" font-size="8.8" text-anchor="end" fill="#1a1a1a" letter-spacing="1.45" stroke="#1a1a1a" stroke-width="0.12" >1000</text>
<text x="278.50" y="189.05" font-size="8.8" text-anchor="end" fill="#1a1a1a" letter-spacing="1.45" stroke="#1a1a1a" stroke-width="0.12" >1500</text>
<text x="278.50" y="163.40" font-size="8.8" text-anchor="end" fill="#1a1a1a" letter-spacing="1.45" stroke="#1a1a1a" stroke-width="0.12" >2000</text>
<line x1="289.76" y1="262.40" x2="289.76" y2="264.60" stroke="#6e6e6e" stroke-width="0.8" />
<line x1="295.23" y1="262.40" x2="295.23" y2="264.60" stroke="#6e6e6e" stroke-width="0.8" />
<line x1="300.69" y1="262.40" x2="300.69" y2="264.60" stroke="#6e6e6e" stroke-width="0.8" />
<line x1="306.15" y1="262.40" x2="306.15" y2="264.60" stroke="#6e6e6e" stroke-width="0.8" />
<line x1="311.62" y1="262.40" x2="311.62" y2="266.40" stroke="#6e6e6e" stroke-width="0.8" />
<line x1="317.08" y1="262.40" x2="317.08" y2="264.60" stroke="#6e6e6e" stroke-width="0.8" />
<line x1="322.54" y1="262.40" x2="322.54" y2="264.60" stroke="#6e6e6e" stroke-width="0.8" />
<line x1="328.01" y1="262.40" x2="328.01" y2="264.60" stroke="#6e6e6e" stroke-width="0.8" />
<line x1="333.47" y1="262.40" x2="333.47" y2="264.60" stroke="#6e6e6e" stroke-width="0.8" />
<line x1="338.93" y1="262.40" x2="338.93" y2="266.40" stroke="#6e6e6e" stroke-width="0.8" />
<line x1="344.40" y1="262.40" x2="344.40" y2="264.60" stroke="#6e6e6e" stroke-width="0.8" />
<line x1="349.86" y1="262.40" x2="349.86" y2="264.60" stroke="#6e6e6e" stroke-width="0.8" />
<line x1="355.32" y1="262.40" x2="355.32" y2="264.60" stroke="#6e6e6e" stroke-width="0.8" />
<line x1="360.79" y1="262.40" x2="360.79" y2="264.60" stroke="#6e6e6e" stroke-width="0.8" />
<line x1="366.25" y1="262.40" x2="366.25" y2="266.40" stroke="#6e6e6e" stroke-width="0.8" />
<line x1="371.71" y1="262.40" x2="371.71" y2="264.60" stroke="#6e6e6e" stroke-width="0.8" />
<line x1="377.18" y1="262.40" x2="377.18" y2="264.60" stroke="#6e6e6e" stroke-width="0.8" />
<line x1="382.64" y1="262.40" x2="382.64" y2="264.60" stroke="#6e6e6e" stroke-width="0.8" />
<line x1="388.10" y1="262.40" x2="388.10" y2="264.60" stroke="#6e6e6e" stroke-width="0.8" />
<line x1="393.57" y1="262.40" x2="393.57" y2="266.40" stroke="#6e6e6e" stroke-width="0.8" />
<line x1="399.03" y1="262.40" x2="399.03" y2="264.60" stroke="#6e6e6e" stroke-width="0.8" />
<line x1="404.49" y1="262.40" x2="404.49" y2="264.60" stroke="#6e6e6e" stroke-width="0.8" />
<line x1="409.96" y1="262.40" x2="409.96" y2="264.60" stroke="#6e6e6e" stroke-width="0.8" />
<line x1="415.42" y1="262.40" x2="415.42" y2="264.60" stroke="#6e6e6e" stroke-width="0.8" />
<line x1="420.88" y1="262.40" x2="420.88" y2="266.40" stroke="#6e6e6e" stroke-width="0.8" />
<line x1="426.35" y1="262.40" x2="426.35" y2="264.60" stroke="#6e6e6e" stroke-width="0.8" />
<line x1="431.81" y1="262.40" x2="431.81" y2="264.60" stroke="#6e6e6e" stroke-width="0.8" />
<line x1="437.27" y1="262.40" x2="437.27" y2="264.60" stroke="#6e6e6e" stroke-width="0.8" />
<line x1="442.74" y1="262.40" x2="442.74" y2="264.60" stroke="#6e6e6e" stroke-width="0.8" />
<text x="311.52" y="276.20" font-size="8.8" text-anchor="middle" fill="#1a1a1a" letter-spacing="1.6" stroke="#1a1a1a" stroke-width="0.12" >25</text>
<text x="338.83" y="276.20" font-size="8.8" text-anchor="middle" fill="#1a1a1a" letter-spacing="1.6" stroke="#1a1a1a" stroke-width="0.12" >50</text>
<text x="366.15" y="276.20" font-size="8.8" text-anchor="middle" fill="#1a1a1a" letter-spacing="1.6" stroke="#1a1a1a" stroke-width="0.12" >75</text>
<text x="393.47" y="276.20" font-size="8.8" text-anchor="middle" fill="#1a1a1a" letter-spacing="1.6" stroke="#1a1a1a" stroke-width="0.12" >100</text>
<text x="420.78" y="276.20" font-size="8.8" text-anchor="middle" fill="#1a1a1a" letter-spacing="1.6" stroke="#1a1a1a" stroke-width="0.12" >125</text>
<rect x="349.20" y="162.20" width="94.60" height="55.00" fill="#fff" stroke="#1e1e1e" stroke-width="1.25"/>
<text x="360.30" y="175.00" font-size="8.7" text-anchor="start" fill="#1a1a1a" letter-spacing="1.0" stroke="#1a1a1a" stroke-width="0.12" >sub-G1=12.9%</text>
<text x="360.30" y="187.60" font-size="8.7" text-anchor="start" fill="#1a1a1a" letter-spacing="1.0" stroke="#1a1a1a" stroke-width="0.12" >G0/G1=72%</text>
<text x="360.30" y="200.30" font-size="8.7" text-anchor="start" fill="#1a1a1a" letter-spacing="1.0" stroke="#1a1a1a" stroke-width="0.12" >S=6.5%</text>
<text x="360.30" y="213.20" font-size="8.7" text-anchor="start" fill="#1a1a1a" letter-spacing="1.0" stroke="#1a1a1a" stroke-width="0.12" >G2/M=8,5%</text>
<path d="M502.30 262.40 L502.30 260.33 L502.85 251.86 L503.40 241.55 L503.94 239.11 L504.49 241.67 L505.04 244.24 L505.59 245.62 L506.14 247.07 L506.69 248.66 L507.24 250.55 L507.78 251.96 L508.33 252.68 L508.88 254.04 L509.43 254.14 L509.98 255.29 L510.53 255.51 L511.07 256.51 L511.62 256.90 L512.17 257.40 L512.72 257.66 L513.27 258.11 L513.82 258.48 L514.36 258.39 L514.91 258.81 L515.46 259.02 L516.01 259.16 L516.56 259.24 L517.11 259.39 L517.65 259.44 L518.20 259.54 L518.75 259.73 L519.30 259.63 L519.85 259.72 L520.39 260.03 L520.94 259.85 L521.49 259.88 L522.04 259.96 L522.59 260.18 L523.14 260.02 L523.68 260.10 L524.23 260.29 L524.78 260.32 L525.33 260.09 L525.88 260.18 L526.43 260.30 L526.98 260.35 L527.52 260.35 L528.07 260.34 L528.62 260.21 L529.17 260.33 L529.72 260.38 L530.26 260.20 L530.81 260.24 L531.36 260.40 L531.91 260.22 L532.46 260.29 L533.01 260.25 L533.55 260.29 L534.10 260.23 L534.65 260.26 L535.20 260.25 L535.75 260.41 L536.30 260.29 L536.85 260.33 L537.39 260.28 L537.94 260.36 L538.49 260.25 L539.04 260.33 L539.59 260.40 L540.13 260.41 L540.68 260.43 L541.23 260.35 L541.78 260.45 L542.33 260.35 L542.88 260.43 L543.42 260.35 L543.97 260.35 L544.52 260.34 L545.07 260.26 L545.62 260.47 L546.17 260.26 L546.72 260.35 L547.26 260.31 L547.81 260.27 L548.36 260.18 L548.91 260.22 L549.46 260.06 L550.00 259.61 L550.55 259.44 L551.10 258.42 L551.65 257.13 L552.20 255.70 L552.75 252.43 L553.29 248.52 L553.84 243.04 L554.39 238.12 L554.94 231.40 L555.49 224.22 L556.04 217.15 L556.59 210.84 L557.13 205.98 L557.68 203.10 L558.23 202.55 L558.78 204.35 L559.33 208.25 L559.88 213.74 L560.42 220.21 L560.97 227.01 L561.52 233.58 L562.07 239.48 L562.62 244.85 L563.16 247.68 L563.71 251.54 L564.26 253.82 L564.81 255.08 L565.36 256.88 L565.91 257.21 L566.45 257.84 L567.00 258.39 L567.55 258.45 L568.10 258.91 L568.65 259.04 L569.20 259.16 L569.75 259.18 L570.29 259.47 L570.84 259.45 L571.39 259.50 L571.94 259.49 L572.49 259.42 L573.03 259.62 L573.58 259.45 L574.13 259.60 L574.68 259.57 L575.23 259.65 L575.78 259.57 L576.33 259.42 L576.87 259.53 L577.42 259.48 L577.97 259.64 L578.52 259.64 L579.07 259.65 L579.62 259.55 L580.16 259.53 L580.71 259.48 L581.26 259.73 L581.81 259.50 L582.36 259.45 L582.90 259.56 L583.45 259.73 L584.00 259.65 L584.55 259.75 L585.10 259.68 L585.65 259.44 L586.19 259.54 L586.74 259.52 L587.29 259.48 L587.84 259.44 L588.39 259.54 L588.94 259.54 L589.49 259.54 L590.03 259.51 L590.58 259.55 L591.13 259.52 L591.68 259.68 L592.23 259.52 L592.77 259.59 L593.32 259.49 L593.87 259.71 L594.42 259.68 L594.97 259.73 L595.52 259.48 L596.06 259.43 L596.61 259.51 L597.16 259.60 L597.71 259.44 L598.26 259.44 L598.81 259.50 L599.36 259.58 L599.90 259.53 L600.45 259.44 L601.00 259.42 L601.55 259.31 L602.10 259.14 L602.64 258.90 L603.19 259.12 L603.74 258.74 L604.29 258.78 L604.84 258.53 L605.39 257.94 L605.93 257.78 L606.48 257.28 L607.03 257.24 L607.58 257.21 L608.13 256.65 L608.68 256.19 L609.22 255.63 L609.77 255.31 L610.32 255.49 L610.87 255.35 L611.42 255.48 L611.97 254.92 L612.51 255.28 L613.06 255.36 L613.61 255.57 L614.16 255.73 L614.71 255.37 L615.26 256.08 L615.80 255.72 L616.35 256.69 L616.90 256.48 L617.45 257.32 L618.00 257.71 L618.55 257.65 L619.10 258.23 L619.64 258.30 L620.19 258.85 L620.74 259.18 L621.29 259.16 L621.84 259.44 L622.38 259.64 L622.93 259.92 L623.48 260.32 L624.03 260.40 L624.58 260.60 L625.13 260.86 L625.67 260.98 L626.22 261.28 L626.77 261.36 L627.32 261.55 L627.87 261.76 L628.42 261.87 L628.96 261.94 L629.51 262.02 L630.06 262.13 L630.61 262.18 L631.16 262.22 L631.71 262.27 L632.25 262.29 L632.80 262.32 L633.35 262.34 L633.90 262.35 L634.45 262.36 L635.00 262.37 L635.54 262.38 L636.09 262.38 L636.64 262.39 L637.19 262.39 L637.74 262.39 L638.29 262.39 L638.83 262.39 L639.38 262.40 L639.93 262.40 L640.48 262.40 L641.03 262.40 L641.58 262.40 L642.12 262.40 L642.67 262.40 L643.22 262.40 L643.77 262.40 L644.32 262.40 L644.87 262.40 L645.41 262.40 L645.96 262.40 L646.51 262.40 L647.06 262.40 L647.61 262.40 L648.16 262.40 L648.70 262.40 L649.25 262.40 L649.80 262.40 L650.35 262.40 L650.90 262.40 L651.45 262.40 L651.99 262.40 L652.54 262.40 L653.09 262.40 L653.64 262.40 L654.19 262.40 L654.74 262.40 L655.28 262.40 L655.83 262.40 L656.38 262.40 L656.93 262.40 L657.48 262.40 L658.03 262.40 L658.57 262.40 L659.12 262.40 L659.67 262.40 L660.22 262.40 L660.77 262.40 L661.32 262.40 L661.87 262.40 L662.41 262.40 L662.96 262.40 L663.51 262.40 L664.06 262.40 L664.61 262.40 L665.15 262.40 L665.70 262.40 L666.25 262.40 L666.80 262.40 L666.80 262.40 Z" fill="#f36f71" stroke="#dc4247" stroke-width="0.7" stroke-linejoin="round"/>
<line x1="568.10" y1="259.21" x2="568.10" y2="262.10" stroke="#c9343a" stroke-width="0.8" />
<line x1="598.81" y1="259.80" x2="598.81" y2="262.10" stroke="#c9343a" stroke-width="0.8" />
<path d="M502.30 159.80 H666.80 V262.40" fill="none" stroke="#b4b4b4" stroke-width="1.3"/>
<path d="M502.30 159.80 V262.40 H666.80" fill="none" stroke="#6e6e6e" stroke-width="1"/>
<line x1="497.80" y1="262.40" x2="502.30" y2="262.40" stroke="#6e6e6e" stroke-width="0.8" />
<line x1="500.00" y1="257.27" x2="502.30" y2="257.27" stroke="#6e6e6e" stroke-width="0.8" />
<line x1="500.00" y1="252.14" x2="502.30" y2="252.14" stroke="#6e6e6e" stroke-width="0.8" />
<line x1="500.00" y1="247.01" x2="502.30" y2="247.01" stroke="#6e6e6e" stroke-width="0.8" />
<line x1="500.00" y1="241.88" x2="502.30" y2="241.88" stroke="#6e6e6e" stroke-width="0.8" />
<line x1="497.80" y1="236.75" x2="502.30" y2="236.75" stroke="#6e6e6e" stroke-width="0.8" />
<line x1="500.00" y1="231.62" x2="502.30" y2="231.62" stroke="#6e6e6e" stroke-width="0.8" />
<line x1="500.00" y1="226.49" x2="502.30" y2="226.49" stroke="#6e6e6e" stroke-width="0.8" />
<line x1="500.00" y1="221.36" x2="502.30" y2="221.36" stroke="#6e6e6e" stroke-width="0.8" />
<line x1="500.00" y1="216.23" x2="502.30" y2="216.23" stroke="#6e6e6e" stroke-width="0.8" />
<line x1="497.80" y1="211.10" x2="502.30" y2="211.10" stroke="#6e6e6e" stroke-width="0.8" />
<line x1="500.00" y1="205.97" x2="502.30" y2="205.97" stroke="#6e6e6e" stroke-width="0.8" />
<line x1="500.00" y1="200.84" x2="502.30" y2="200.84" stroke="#6e6e6e" stroke-width="0.8" />
<line x1="500.00" y1="195.71" x2="502.30" y2="195.71" stroke="#6e6e6e" stroke-width="0.8" />
<line x1="500.00" y1="190.58" x2="502.30" y2="190.58" stroke="#6e6e6e" stroke-width="0.8" />
<line x1="497.80" y1="185.45" x2="502.30" y2="185.45" stroke="#6e6e6e" stroke-width="0.8" />
<line x1="500.00" y1="180.32" x2="502.30" y2="180.32" stroke="#6e6e6e" stroke-width="0.8" />
<line x1="500.00" y1="175.19" x2="502.30" y2="175.19" stroke="#6e6e6e" stroke-width="0.8" />
<line x1="500.00" y1="170.06" x2="502.30" y2="170.06" stroke="#6e6e6e" stroke-width="0.8" />
<line x1="500.00" y1="164.93" x2="502.30" y2="164.93" stroke="#6e6e6e" stroke-width="0.8" />
<line x1="497.80" y1="159.80" x2="502.30" y2="159.80" stroke="#6e6e6e" stroke-width="0.8" />
<text x="496.50" y="266.00" font-size="8.8" text-anchor="end" fill="#1a1a1a" letter-spacing="1.45" stroke="#1a1a1a" stroke-width="0.12" >0</text>
<text x="496.50" y="240.35" font-size="8.8" text-anchor="end" fill="#1a1a1a" letter-spacing="1.45" stroke="#1a1a1a" stroke-width="0.12" >500</text>
<text x="496.50" y="214.70" font-size="8.8" text-anchor="end" fill="#1a1a1a" letter-spacing="1.45" stroke="#1a1a1a" stroke-width="0.12" >1000</text>
<text x="496.50" y="189.05" font-size="8.8" text-anchor="end" fill="#1a1a1a" letter-spacing="1.45" stroke="#1a1a1a" stroke-width="0.12" >1500</text>
<text x="496.50" y="163.40" font-size="8.8" text-anchor="end" fill="#1a1a1a" letter-spacing="1.45" stroke="#1a1a1a" stroke-width="0.12" >2000</text>
<line x1="507.78" y1="262.40" x2="507.78" y2="264.60" stroke="#6e6e6e" stroke-width="0.8" />
<line x1="513.27" y1="262.40" x2="513.27" y2="264.60" stroke="#6e6e6e" stroke-width="0.8" />
<line x1="518.75" y1="262.40" x2="518.75" y2="264.60" stroke="#6e6e6e" stroke-width="0.8" />
<line x1="524.23" y1="262.40" x2="524.23" y2="264.60" stroke="#6e6e6e" stroke-width="0.8" />
<line x1="529.72" y1="262.40" x2="529.72" y2="266.40" stroke="#6e6e6e" stroke-width="0.8" />
<line x1="535.20" y1="262.40" x2="535.20" y2="264.60" stroke="#6e6e6e" stroke-width="0.8" />
<line x1="540.68" y1="262.40" x2="540.68" y2="264.60" stroke="#6e6e6e" stroke-width="0.8" />
<line x1="546.17" y1="262.40" x2="546.17" y2="264.60" stroke="#6e6e6e" stroke-width="0.8" />
<line x1="551.65" y1="262.40" x2="551.65" y2="264.60" stroke="#6e6e6e" stroke-width="0.8" />
<line x1="557.13" y1="262.40" x2="557.13" y2="266.40" stroke="#6e6e6e" stroke-width="0.8" />
<line x1="562.62" y1="262.40" x2="562.62" y2="264.60" stroke="#6e6e6e" stroke-width="0.8" />
<line x1="568.10" y1="262.40" x2="568.10" y2="264.60" stroke="#6e6e6e" stroke-width="0.8" />
<line x1="573.58" y1="262.40" x2="573.58" y2="264.60" stroke="#6e6e6e" stroke-width="0.8" />
<line x1="579.07" y1="262.40" x2="579.07" y2="264.60" stroke="#6e6e6e" stroke-width="0.8" />
<line x1="584.55" y1="262.40" x2="584.55" y2="266.40" stroke="#6e6e6e" stroke-width="0.8" />
<line x1="590.03" y1="262.40" x2="590.03" y2="264.60" stroke="#6e6e6e" stroke-width="0.8" />
<line x1="595.52" y1="262.40" x2="595.52" y2="264.60" stroke="#6e6e6e" stroke-width="0.8" />
<line x1="601.00" y1="262.40" x2="601.00" y2="264.60" stroke="#6e6e6e" stroke-width="0.8" />
<line x1="606.48" y1="262.40" x2="606.48" y2="264.60" stroke="#6e6e6e" stroke-width="0.8" />
<line x1="611.97" y1="262.40" x2="611.97" y2="266.40" stroke="#6e6e6e" stroke-width="0.8" />
<line x1="617.45" y1="262.40" x2="617.45" y2="264.60" stroke="#6e6e6e" stroke-width="0.8" />
<line x1="622.93" y1="262.40" x2="622.93" y2="264.60" stroke="#6e6e6e" stroke-width="0.8" />
<line x1="628.42" y1="262.40" x2="628.42" y2="264.60" stroke="#6e6e6e" stroke-width="0.8" />
<line x1="633.90" y1="262.40" x2="633.90" y2="264.60" stroke="#6e6e6e" stroke-width="0.8" />
<line x1="639.38" y1="262.40" x2="639.38" y2="266.40" stroke="#6e6e6e" stroke-width="0.8" />
<line x1="644.87" y1="262.40" x2="644.87" y2="264.60" stroke="#6e6e6e" stroke-width="0.8" />
<line x1="650.35" y1="262.40" x2="650.35" y2="264.60" stroke="#6e6e6e" stroke-width="0.8" />
<line x1="655.83" y1="262.40" x2="655.83" y2="264.60" stroke="#6e6e6e" stroke-width="0.8" />
<line x1="661.32" y1="262.40" x2="661.32" y2="264.60" stroke="#6e6e6e" stroke-width="0.8" />
<text x="529.62" y="276.20" font-size="8.8" text-anchor="middle" fill="#1a1a1a" letter-spacing="1.6" stroke="#1a1a1a" stroke-width="0.12" >25</text>
<text x="557.03" y="276.20" font-size="8.8" text-anchor="middle" fill="#1a1a1a" letter-spacing="1.6" stroke="#1a1a1a" stroke-width="0.12" >50</text>
<text x="584.45" y="276.20" font-size="8.8" text-anchor="middle" fill="#1a1a1a" letter-spacing="1.6" stroke="#1a1a1a" stroke-width="0.12" >75</text>
<text x="611.87" y="276.20" font-size="8.8" text-anchor="middle" fill="#1a1a1a" letter-spacing="1.6" stroke="#1a1a1a" stroke-width="0.12" >100</text>
<text x="639.28" y="276.20" font-size="8.8" text-anchor="middle" fill="#1a1a1a" letter-spacing="1.6" stroke="#1a1a1a" stroke-width="0.12" >125</text>
<rect x="569.50" y="162.20" width="93.50" height="55.20" fill="#fff" stroke="#1e1e1e" stroke-width="1.25"/>
<text x="580.00" y="175.00" font-size="8.7" text-anchor="start" fill="#1a1a1a" letter-spacing="1.0" stroke="#1a1a1a" stroke-width="0.12" >sub-G1=23.4%</text>
<text x="580.00" y="187.60" font-size="8.7" text-anchor="start" fill="#1a1a1a" letter-spacing="1.0" stroke="#1a1a1a" stroke-width="0.12" >G0/G1=53.8%</text>
<text x="580.00" y="200.30" font-size="8.7" text-anchor="start" fill="#1a1a1a" letter-spacing="1.0" stroke="#1a1a1a" stroke-width="0.12" >S=10%</text>
<text x="580.00" y="213.20" font-size="8.7" text-anchor="start" fill="#1a1a1a" letter-spacing="1.0" stroke="#1a1a1a" stroke-width="0.12" >G2/M=12.8%</text>
<line x1="90.40" y1="363.20" x2="90.40" y2="486.10" stroke="#0a0a0a" stroke-width="1.2" />
<line x1="84.10" y1="485.60" x2="207.70" y2="485.60" stroke="#0a0a0a" stroke-width="1.2" />
<line x1="84.10" y1="455.12" x2="90.40" y2="455.12" stroke="#0a0a0a" stroke-width="1.2" />
<line x1="84.10" y1="424.65" x2="90.40" y2="424.65" stroke="#0a0a0a" stroke-width="1.2" />
<line x1="84.10" y1="394.18" x2="90.40" y2="394.18" stroke="#0a0a0a" stroke-width="1.2" />
<line x1="84.10" y1="363.70" x2="90.40" y2="363.70" stroke="#0a0a0a" stroke-width="1.2" />
<text x="81.50" y="489.50" font-size="10.8" text-anchor="end" fill="#111" >0</text>
<text x="81.50" y="459.02" font-size="10.8" text-anchor="end" fill="#111" >30</text>
<text x="81.50" y="428.55" font-size="10.8" text-anchor="end" fill="#111" >60</text>
<text x="81.50" y="398.07" font-size="10.8" text-anchor="end" fill="#111" >90</text>
<text x="81.50" y="367.60" font-size="10.8" text-anchor="end" fill="#111" >120</text>
<text x="58.80" y="426.50" font-size="11" text-anchor="middle" fill="#111" transform="rotate(-90 58.80 426.50)" >% of living cells</text>
<text x="151.00" y="363.30" font-size="11" text-anchor="middle" fill="#111" >SK-N-BE(2)</text>
<text x="0.00" y="357.00" font-size="16" text-anchor="start" fill="#000" font-weight="bold" >B</text>
<rect x="97.40" y="420.89" width="27.5" height="64.71" fill="#d4540a" stroke="#0a0a0a" stroke-width="1.25"/>
<rect x="97.40" y="401.90" width="27.5" height="19.00" fill="#ff8210" stroke="#0a0a0a" stroke-width="1.25"/>
<rect x="97.40" y="384.02" width="27.5" height="17.88" fill="#fcc28b" stroke="#0a0a0a" stroke-width="1.25"/>
<line x1="111.15" y1="420.89" x2="111.15" y2="418.56" stroke="#0a0a0a" stroke-width="1.1" />
<line x1="104.35" y1="418.56" x2="117.95" y2="418.56" stroke="#0a0a0a" stroke-width="1.4" />
<line x1="111.15" y1="401.90" x2="111.15" y2="401.39" stroke="#0a0a0a" stroke-width="1.1" />
<line x1="104.35" y1="401.39" x2="117.95" y2="401.39" stroke="#0a0a0a" stroke-width="1.4" />
<line x1="111.15" y1="384.02" x2="111.15" y2="382.09" stroke="#0a0a0a" stroke-width="1.1" />
<line x1="104.35" y1="382.09" x2="117.95" y2="382.09" stroke="#0a0a0a" stroke-width="1.4" />
<line x1="111.15" y1="485.60" x2="111.15" y2="491.10" stroke="#0a0a0a" stroke-width="1.2" />
<rect x="137.40" y="405.86" width="27.5" height="79.74" fill="#d4540a" stroke="#0a0a0a" stroke-width="1.25"/>
<rect x="137.40" y="394.78" width="27.5" height="11.07" fill="#ff8210" stroke="#0a0a0a" stroke-width="1.25"/>
<rect x="137.40" y="384.02" width="27.5" height="10.77" fill="#fcc28b" stroke="#0a0a0a" stroke-width="1.25"/>
<line x1="151.15" y1="405.86" x2="151.15" y2="403.42" stroke="#0a0a0a" stroke-width="1.1" />
<line x1="144.35" y1="403.42" x2="157.95" y2="403.42" stroke="#0a0a0a" stroke-width="1.4" />
<line x1="151.15" y1="394.78" x2="151.15" y2="393.57" stroke="#0a0a0a" stroke-width="1.1" />
<line x1="144.35" y1="393.57" x2="157.95" y2="393.57" stroke="#0a0a0a" stroke-width="1.4" />
<line x1="151.15" y1="384.02" x2="151.15" y2="382.70" stroke="#0a0a0a" stroke-width="1.1" />
<line x1="144.35" y1="382.70" x2="157.95" y2="382.70" stroke="#0a0a0a" stroke-width="1.4" />
<line x1="151.15" y1="485.60" x2="151.15" y2="491.10" stroke="#0a0a0a" stroke-width="1.2" />
<rect x="178.20" y="417.54" width="27.5" height="68.06" fill="#d4540a" stroke="#0a0a0a" stroke-width="1.25"/>
<rect x="178.20" y="401.18" width="27.5" height="16.35" fill="#ff8210" stroke="#0a0a0a" stroke-width="1.25"/>
<rect x="178.20" y="384.02" width="27.5" height="17.17" fill="#fcc28b" stroke="#0a0a0a" stroke-width="1.25"/>
<line x1="191.95" y1="417.54" x2="191.95" y2="414.09" stroke="#0a0a0a" stroke-width="1.1" />
<line x1="185.15" y1="414.09" x2="198.75" y2="414.09" stroke="#0a0a0a" stroke-width="1.4" />
<line x1="191.95" y1="401.18" x2="191.95" y2="399.56" stroke="#0a0a0a" stroke-width="1.1" />
<line x1="185.15" y1="399.56" x2="198.75" y2="399.56" stroke="#0a0a0a" stroke-width="1.4" />
<line x1="191.95" y1="384.02" x2="191.95" y2="382.09" stroke="#0a0a0a" stroke-width="1.1" />
<line x1="185.15" y1="382.09" x2="198.75" y2="382.09" stroke="#0a0a0a" stroke-width="1.4" />
<line x1="191.95" y1="485.60" x2="191.95" y2="491.10" stroke="#0a0a0a" stroke-width="1.2" />
<text x="151.20" y="382.80" font-size="9" text-anchor="middle" fill="#111" font-weight="bold" >*</text>
<text x="151.20" y="394.00" font-size="9" text-anchor="middle" fill="#111" font-weight="bold" >*</text>
<text x="151.20" y="404.60" font-size="9" text-anchor="middle" fill="#111" font-weight="bold" >*</text>
<text x="115.15" y="494.00" font-size="11.2" text-anchor="end" fill="#111" transform="rotate(-90 115.15 494.00)" >miR-Control</text>
<text x="155.15" y="494.00" font-size="11.2" text-anchor="end" fill="#111" transform="rotate(-90 155.15 494.00)" >miR-323a-5p</text>
<text x="195.95" y="494.00" font-size="11.2" text-anchor="end" fill="#111" transform="rotate(-90 195.95 494.00)" >miR-342-5p</text>
<rect x="217.50" y="385.30" width="14" height="13.2" fill="#d4540a" stroke="#0a0a0a" stroke-width="1.25"/>
<text x="233.80" y="396.00" font-size="11" text-anchor="start" fill="#111" >G0/G1 phase</text>
<rect x="217.50" y="402.00" width="14" height="13.2" fill="#ff8210" stroke="#0a0a0a" stroke-width="1.25"/>
<text x="233.80" y="412.70" font-size="11" text-anchor="start" fill="#111" >S phase</text>
<rect x="217.50" y="418.70" width="14" height="13.2" fill="#fcc28b" stroke="#0a0a0a" stroke-width="1.25"/>
<text x="233.80" y="429.40" font-size="11" text-anchor="start" fill="#111" >G2/M phase</text>
<line x1="462.40" y1="363.20" x2="462.40" y2="486.10" stroke="#0a0a0a" stroke-width="1.2" />
<line x1="456.10" y1="485.60" x2="580.10" y2="485.60" stroke="#0a0a0a" stroke-width="1.2" />
<line x1="456.10" y1="455.12" x2="462.40" y2="455.12" stroke="#0a0a0a" stroke-width="1.2" />
<line x1="456.10" y1="424.65" x2="462.40" y2="424.65" stroke="#0a0a0a" stroke-width="1.2" />
<line x1="456.10" y1="394.18" x2="462.40" y2="394.18" stroke="#0a0a0a" stroke-width="1.2" />
<line x1="456.10" y1="363.70" x2="462.40" y2="363.70" stroke="#0a0a0a" stroke-width="1.2" />
<text x="453.50" y="489.50" font-size="10.8" text-anchor="end" fill="#111" >0</text>
<text x="453.50" y="459.02" font-size="10.8" text-anchor="end" fill="#111" >30</text>
<text x="453.50" y="428.55" font-size="10.8" text-anchor="end" fill="#111" >60</text>
<text x="453.50" y="398.07" font-size="10.8" text-anchor="end" fill="#111" >90</text>
<text x="453.50" y="367.60" font-size="10.8" text-anchor="end" fill="#111" >120</text>
<text x="432.40" y="426.50" font-size="11" text-anchor="middle" fill="#111" transform="rotate(-90 432.40 426.50)" >% of living cells</text>
<text x="523.00" y="363.30" font-size="11" text-anchor="middle" fill="#111" >SK-N-AS</text>
<text x="406.80" y="357.00" font-size="16" text-anchor="start" fill="#000" font-weight="bold" >C</text>
<rect x="469.40" y="419.77" width="27.5" height="65.83" fill="#d4540a" stroke="#0a0a0a" stroke-width="1.25"/>
<rect x="469.40" y="401.69" width="27.5" height="18.08" fill="#ff8210" stroke="#0a0a0a" stroke-width="1.25"/>
<rect x="469.40" y="384.02" width="27.5" height="17.68" fill="#fcc28b" stroke="#0a0a0a" stroke-width="1.25"/>
<line x1="483.15" y1="419.77" x2="483.15" y2="417.95" stroke="#0a0a0a" stroke-width="1.1" />
<line x1="476.35" y1="417.95" x2="489.95" y2="417.95" stroke="#0a0a0a" stroke-width="1.4" />
<line x1="483.15" y1="401.69" x2="483.15" y2="401.18" stroke="#0a0a0a" stroke-width="1.1" />
<line x1="476.35" y1="401.18" x2="489.95" y2="401.18" stroke="#0a0a0a" stroke-width="1.4" />
<line x1="483.15" y1="384.02" x2="483.15" y2="382.19" stroke="#0a0a0a" stroke-width="1.1" />
<line x1="476.35" y1="382.19" x2="489.95" y2="382.19" stroke="#0a0a0a" stroke-width="1.4" />
<line x1="483.15" y1="485.60" x2="483.15" y2="491.10" stroke="#0a0a0a" stroke-width="1.2" />
<rect x="509.80" y="398.95" width="27.5" height="86.65" fill="#d4540a" stroke="#0a0a0a" stroke-width="1.25"/>
<rect x="509.80" y="391.53" width="27.5" height="7.42" fill="#ff8210" stroke="#0a0a0a" stroke-width="1.25"/>
<rect x="509.80" y="384.02" width="27.5" height="7.52" fill="#fcc28b" stroke="#0a0a0a" stroke-width="1.25"/>
<line x1="523.55" y1="398.95" x2="523.55" y2="397.63" stroke="#0a0a0a" stroke-width="1.1" />
<line x1="516.75" y1="397.63" x2="530.35" y2="397.63" stroke="#0a0a0a" stroke-width="1.4" />
<line x1="523.55" y1="391.53" x2="523.55" y2="390.62" stroke="#0a0a0a" stroke-width="1.1" />
<line x1="516.75" y1="390.62" x2="530.35" y2="390.62" stroke="#0a0a0a" stroke-width="1.4" />
<line x1="523.55" y1="384.02" x2="523.55" y2="383.31" stroke="#0a0a0a" stroke-width="1.1" />
<line x1="516.75" y1="383.31" x2="530.35" y2="383.31" stroke="#0a0a0a" stroke-width="1.4" />
<line x1="523.55" y1="485.60" x2="523.55" y2="491.10" stroke="#0a0a0a" stroke-width="1.2" />
<rect x="550.60" y="417.13" width="27.5" height="68.47" fill="#d4540a" stroke="#0a0a0a" stroke-width="1.25"/>
<rect x="550.60" y="400.88" width="27.5" height="16.25" fill="#ff8210" stroke="#0a0a0a" stroke-width="1.25"/>
<rect x="550.60" y="384.02" width="27.5" height="16.86" fill="#fcc28b" stroke="#0a0a0a" stroke-width="1.25"/>
<line x1="564.35" y1="417.13" x2="564.35" y2="414.09" stroke="#0a0a0a" stroke-width="1.1" />
<line x1="557.55" y1="414.09" x2="571.15" y2="414.09" stroke="#0a0a0a" stroke-width="1.4" />
<line x1="564.35" y1="400.88" x2="564.35" y2="399.05" stroke="#0a0a0a" stroke-width="1.1" />
<line x1="557.55" y1="399.05" x2="571.15" y2="399.05" stroke="#0a0a0a" stroke-width="1.4" />
<line x1="564.35" y1="384.02" x2="564.35" y2="382.39" stroke="#0a0a0a" stroke-width="1.1" />
<line x1="557.55" y1="382.39" x2="571.15" y2="382.39" stroke="#0a0a0a" stroke-width="1.4" />
<line x1="564.35" y1="485.60" x2="564.35" y2="491.10" stroke="#0a0a0a" stroke-width="1.2" />
<text x="522.90" y="385.00" font-size="8.5" text-anchor="middle" fill="#111" font-weight="bold" >*</text>
<text x="522.90" y="392.40" font-size="8.5" text-anchor="middle" fill="#111" font-weight="bold" >**</text>
<text x="522.90" y="400.00" font-size="8.5" text-anchor="middle" fill="#111" font-weight="bold" >**</text>
<text x="487.15" y="494.00" font-size="11.2" text-anchor="end" fill="#111" transform="rotate(-90 487.15 494.00)" >miR-Control</text>
<text x="527.55" y="494.00" font-size="11.2" text-anchor="end" fill="#111" transform="rotate(-90 527.55 494.00)" >miR-323a-5p</text>
<text x="568.35" y="494.00" font-size="11.2" text-anchor="end" fill="#111" transform="rotate(-90 568.35 494.00)" >miR-342-5p</text>
<rect x="590.20" y="385.30" width="14" height="13.2" fill="#d4540a" stroke="#0a0a0a" stroke-width="1.25"/>
<text x="606.50" y="396.00" font-size="11" text-anchor="start" fill="#111" >G0/G1 phase</text>
<rect x="590.20" y="402.00" width="14" height="13.2" fill="#ff8210" stroke="#0a0a0a" stroke-width="1.25"/>
<text x="606.50" y="412.70" font-size="11" text-anchor="start" fill="#111" >S phase</text>
<rect x="590.20" y="418.70" width="14" height="13.2" fill="#fcc28b" stroke="#0a0a0a" stroke-width="1.25"/>
<text x="606.50" y="429.40" font-size="11" text-anchor="start" fill="#111" >G2/M phase</text>
<line x1="10.00" y1="595.40" x2="286.80" y2="595.40" stroke="#0a0a0a" stroke-width="1.3" />
<line x1="10.00" y1="613.80" x2="286.80" y2="613.80" stroke="#0a0a0a" stroke-width="1.3" />
<line x1="80.60" y1="580.70" x2="80.60" y2="626.20" stroke="#0a0a0a" stroke-width="1.3" />
<line x1="150.20" y1="582.00" x2="150.20" y2="626.20" stroke="#0a0a0a" stroke-width="1.3" />
<line x1="219.00" y1="582.00" x2="219.00" y2="626.20" stroke="#0a0a0a" stroke-width="1.3" />
<text x="115.00" y="577.20" font-size="10.9" text-anchor="middle" fill="#111" textLength="57" lengthAdjust="spacing" >miR-Control</text>
<text x="184.40" y="577.20" font-size="10.9" text-anchor="middle" fill="#111" textLength="62.4" lengthAdjust="spacing" >miR-323a-5p</text>
<text x="254.40" y="577.20" font-size="10.9" text-anchor="middle" fill="#111" textLength="55.7" lengthAdjust="spacing" >miR-342-5p</text>
<text x="14.50" y="592.40" font-size="11" text-anchor="start" fill="#111" >G0/G1 phase</text>
<text x="138.70" y="592.30" font-size="11" text-anchor="end" fill="#111" >63.7 ± 2.3</text>
<text x="211.60" y="592.30" font-size="11" text-anchor="end" fill="#111" >78.5 ± 2.4</text>
<text x="280.60" y="592.30" font-size="11" text-anchor="end" fill="#111" >67.0 ± 3.4</text>
<text x="14.50" y="608.00" font-size="11" text-anchor="start" fill="#111" >S phase</text>
<text x="138.70" y="608.60" font-size="11" text-anchor="end" fill="#111" >18.7 ± 0.5</text>
<text x="211.60" y="608.60" font-size="11" text-anchor="end" fill="#111" >10.9 ± 1.2</text>
<text x="280.60" y="608.60" font-size="11" text-anchor="end" fill="#111" >16.1 ± 1.6</text>
<text x="14.50" y="623.00" font-size="11" text-anchor="start" fill="#111" >G2/M phase</text>
<text x="138.70" y="625.20" font-size="11" text-anchor="end" fill="#111" >17.5 ± 1.9</text>
<text x="211.60" y="625.20" font-size="11" text-anchor="end" fill="#111" >10.6 ± 1.3</text>
<text x="280.60" y="625.20" font-size="11" text-anchor="end" fill="#111" >17.0 ± 1.9</text>
<line x1="382.40" y1="595.40" x2="658.80" y2="595.40" stroke="#0a0a0a" stroke-width="1.3" />
<line x1="382.40" y1="613.80" x2="658.80" y2="613.80" stroke="#0a0a0a" stroke-width="1.3" />
<line x1="452.90" y1="580.70" x2="452.90" y2="626.20" stroke="#0a0a0a" stroke-width="1.3" />
<line x1="521.60" y1="582.00" x2="521.60" y2="626.20" stroke="#0a0a0a" stroke-width="1.3" />
<line x1="590.90" y1="582.00" x2="590.90" y2="626.20" stroke="#0a0a0a" stroke-width="1.3" />
<text x="487.40" y="577.20" font-size="10.9" text-anchor="middle" fill="#111" textLength="57" lengthAdjust="spacing" >miR-Control</text>
<text x="556.30" y="577.20" font-size="10.9" text-anchor="middle" fill="#111" textLength="63" lengthAdjust="spacing" >miR-323a-5p</text>
<text x="626.80" y="577.20" font-size="10.9" text-anchor="middle" fill="#111" textLength="55.7" lengthAdjust="spacing" >miR-342-5p</text>
<text x="386.70" y="592.40" font-size="11" text-anchor="start" fill="#111" >G0/G1 phase</text>
<text x="511.00" y="592.30" font-size="11" text-anchor="end" fill="#111" >64.8 ± 1.8</text>
<text x="583.20" y="592.30" font-size="11" text-anchor="end" fill="#111" >85.3 ± 1.3</text>
<text x="652.70" y="592.30" font-size="11" text-anchor="end" fill="#111" >67.4 ± 3.0</text>
<text x="386.70" y="608.00" font-size="11" text-anchor="start" fill="#111" >S phase</text>
<text x="511.00" y="608.60" font-size="11" text-anchor="end" fill="#111" >17.8 ± 0.5</text>
<text x="583.20" y="608.60" font-size="11" text-anchor="end" fill="#111" >7.3 ± 0.9</text>
<text x="652.70" y="608.60" font-size="11" text-anchor="end" fill="#111" >16.0 ± 1.8</text>
<text x="386.70" y="623.00" font-size="11" text-anchor="start" fill="#111" >G2/M phase</text>
<text x="511.00" y="625.20" font-size="11" text-anchor="end" fill="#111" >17.4 ± 1.8</text>
<text x="583.20" y="625.20" font-size="11" text-anchor="end" fill="#111" >7.3 ± 0.7</text>
<text x="652.70" y="625.20" font-size="11" text-anchor="end" fill="#111" >16.3 ± 1.6</text>
<defs>
<filter id="bl" x="-20%" y="-80%" width="140%" height="260%"><feGaussianBlur stdDeviation="1.9 0.95"/></filter>
<filter id="bl2" x="-20%" y="-80%" width="140%" height="260%"><feGaussianBlur stdDeviation="1.8 1.3"/></filter>
<filter id="bl3" x="-30%" y="-100%" width="160%" height="300%"><feGaussianBlur stdDeviation="3 2.5"/></filter>
</defs>
<text x="-0.30" y="674.00" font-size="16" text-anchor="start" fill="#000" font-weight="bold" >D</text>
<text x="150.50" y="679.80" font-size="7.9" text-anchor="middle" fill="#1a1a1a" letter-spacing="0.9" stroke="#1a1a1a" stroke-width="0.12" >SK-N-BE(2)</text>
<text x="147.80" y="754.90" font-size="8.5" text-anchor="middle" fill="#1a1a1a" letter-spacing="1.0" stroke="#1a1a1a" stroke-width="0.12" >kDa</text>
<text x="42.60" y="690.60" font-size="8.5" text-anchor="middle" fill="#1a1a1a" letter-spacing="1.4" stroke="#1a1a1a" stroke-width="0.12" >72h</text>
<line x1="24.50" y1="693.00" x2="57.00" y2="693.00" stroke="#111" stroke-width="1.3" />
<text x="98.50" y="690.60" font-size="8.5" text-anchor="middle" fill="#1a1a1a" letter-spacing="1.4" stroke="#1a1a1a" stroke-width="0.12" >96h</text>
<line x1="81.90" y1="693.00" x2="114.00" y2="693.00" stroke="#111" stroke-width="1.3" />
<text x="30.00" y="757.20" font-size="8.5" text-anchor="start" fill="#1a1a1a" letter-spacing="0.85" stroke="#1a1a1a" stroke-width="0.12" transform="rotate(-90 30.00 757.20)" >miR-Control</text>
<text x="58.00" y="757.20" font-size="8.5" text-anchor="start" fill="#1a1a1a" letter-spacing="0.85" stroke="#1a1a1a" stroke-width="0.12" transform="rotate(-90 58.00 757.20)" >miR-323a-5p</text>
<text x="86.00" y="757.20" font-size="8.5" text-anchor="start" fill="#1a1a1a" letter-spacing="0.85" stroke="#1a1a1a" stroke-width="0.12" transform="rotate(-90 86.00 757.20)" >miR-Control</text>
<text x="109.80" y="757.20" font-size="8.5" text-anchor="start" fill="#1a1a1a" letter-spacing="0.85" stroke="#1a1a1a" stroke-width="0.12" transform="rotate(-90 109.80 757.20)" >miR-323a-5p</text>
<text x="198.60" y="690.60" font-size="8.5" text-anchor="middle" fill="#1a1a1a" letter-spacing="1.4" stroke="#1a1a1a" stroke-width="0.12" >72h</text>
<line x1="181.40" y1="693.00" x2="213.40" y2="693.00" stroke="#111" stroke-width="1.3" />
<text x="251.20" y="690.60" font-size="8.5" text-anchor="middle" fill="#1a1a1a" letter-spacing="1.4" stroke="#1a1a1a" stroke-width="0.12" >96h</text>
<line x1="234.00" y1="693.00" x2="266.00" y2="693.00" stroke="#111" stroke-width="1.3" />
<text x="185.70" y="757.20" font-size="8.5" text-anchor="start" fill="#1a1a1a" letter-spacing="0.85" stroke="#1a1a1a" stroke-width="0.12" transform="rotate(-90 185.70 757.20)" >miR-Control</text>
<text x="211.00" y="757.20" font-size="8.5" text-anchor="start" fill="#1a1a1a" letter-spacing="0.85" stroke="#1a1a1a" stroke-width="0.12" transform="rotate(-90 211.00 757.20)" >miR-342-5p</text>
<text x="237.80" y="757.20" font-size="8.5" text-anchor="start" fill="#1a1a1a" letter-spacing="0.85" stroke="#1a1a1a" stroke-width="0.12" transform="rotate(-90 237.80 757.20)" >miR-Control</text>
<text x="263.20" y="757.20" font-size="8.5" text-anchor="start" fill="#1a1a1a" letter-spacing="0.85" stroke="#1a1a1a" stroke-width="0.12" transform="rotate(-90 263.20 757.20)" >miR-342-5p</text>
<clipPath id="c1"><rect x="12.5" y="760.4" width="111.50" height="34.90"/></clipPath>
<rect x="12.5" y="760.4" width="111.50" height="34.90" fill="#d3d3d3"/>
<g clip-path="url(#c1)">
<ellipse cx="27.4" cy="778.0" rx="10.4" ry="2.68" fill="#2b2b2b" opacity="0.59" filter="url(#bl)"/>
<rect x="20.3" y="776.61" width="14.3" height="2.79" rx="1.40" fill="#2b2b2b" opacity="0.42" filter="url(#bl)"/>
<rect x="43.4" y="774.05" width="25.5" height="9.10" rx="4.55" fill="#2b2b2b" opacity="0.89" filter="url(#bl2)"/>
<ellipse cx="56.1" cy="778.6" rx="10.5" ry="2.34" fill="#2b2b2b" opacity="0.48" filter="url(#bl2)"/>
<ellipse cx="83.7" cy="778.2" rx="9.2" ry="2.68" fill="#2b2b2b" opacity="0.61" filter="url(#bl)"/>
<rect x="77.4" y="776.81" width="12.5" height="2.79" rx="1.40" fill="#2b2b2b" opacity="0.43" filter="url(#bl)"/>
<rect x="97.1" y="773.50" width="23.0" height="12.60" rx="6.30" fill="#1a1a1a" opacity="0.92" filter="url(#bl2)"/>
<ellipse cx="108.6" cy="779.8" rx="9.4" ry="3.30" fill="#1a1a1a" opacity="0.50" filter="url(#bl2)"/>
</g>
<rect x="12.5" y="760.4" width="111.50" height="34.90" fill="none" stroke="#1c1c1c" stroke-width="1.4"/>
<clipPath id="c2"><rect x="12.5" y="799.4" width="111.50" height="35.40"/></clipPath>
<rect x="12.5" y="799.4" width="111.50" height="35.40" fill="#d9d9d9"/>
<g clip-path="url(#c2)">
<rect x="22" y="806" width="20" height="12" fill="#000" opacity="0.1" filter="url(#bl3)"/>
<rect x="49" y="804" width="20" height="13" fill="#000" opacity="0.1" filter="url(#bl3)"/>
<rect x="77" y="808" width="16" height="10" fill="#000" opacity="0.05" filter="url(#bl3)"/>
<ellipse cx="32.1" cy="820.7" rx="11.4" ry="3.78" fill="#2b2b2b" opacity="0.77" filter="url(#bl)"/>
<rect x="24.3" y="818.69" width="15.7" height="4.03" rx="2.02" fill="#2b2b2b" opacity="0.54" filter="url(#bl)"/>
<rect x="48.4" y="816.20" width="21.9" height="7.60" rx="3.80" fill="#2b2b2b" opacity="0.83" filter="url(#bl2)"/>
<ellipse cx="59.4" cy="820.0" rx="8.9" ry="1.93" fill="#2b2b2b" opacity="0.45" filter="url(#bl2)"/>
<ellipse cx="85.3" cy="821.2" rx="10.2" ry="2.95" fill="#2b2b2b" opacity="0.75" filter="url(#bl)"/>
<rect x="78.3" y="819.65" width="14.0" height="3.10" rx="1.55" fill="#2b2b2b" opacity="0.53" filter="url(#bl)"/>
</g>
<rect x="12.5" y="799.4" width="111.50" height="35.40" fill="none" stroke="#1c1c1c" stroke-width="1.4"/>
<clipPath id="c3"><rect x="12.5" y="838.2" width="111.50" height="35.00"/></clipPath>
<rect x="12.5" y="838.2" width="111.50" height="35.00" fill="#d0d0d0"/>
<g clip-path="url(#c3)">
<rect x="24" y="862" width="16" height="8" fill="#000" opacity="0.04" filter="url(#bl3)"/>
<ellipse cx="30.7" cy="855.6" rx="10.2" ry="3.23" fill="#2b2b2b" opacity="0.78" filter="url(#bl)"/>
<rect x="23.7" y="853.89" width="14.0" height="3.41" rx="1.71" fill="#2b2b2b" opacity="0.55" filter="url(#bl)"/>
<ellipse cx="58.0" cy="855.8" rx="11.1" ry="1.30" fill="#2b2b2b" opacity="0.24" filter="url(#bl)"/>
<rect x="50.4" y="855.18" width="15.3" height="1.24" rx="0.62" fill="#2b2b2b" opacity="0.17" filter="url(#bl)"/>
<ellipse cx="84.7" cy="856.2" rx="10.8" ry="3.78" fill="#2b2b2b" opacity="0.81" filter="url(#bl)"/>
<rect x="77.3" y="854.19" width="14.8" height="4.03" rx="2.02" fill="#2b2b2b" opacity="0.57" filter="url(#bl)"/>
<ellipse cx="109.3" cy="856.2" rx="9.8" ry="1.96" fill="#2b2b2b" opacity="0.61" filter="url(#bl)"/>
<rect x="102.6" y="855.21" width="13.4" height="1.98" rx="0.99" fill="#2b2b2b" opacity="0.43" filter="url(#bl)"/>
</g>
<rect x="12.5" y="838.2" width="111.50" height="35.00" fill="none" stroke="#1c1c1c" stroke-width="1.4"/>
<clipPath id="c4"><rect x="12.5" y="877.3" width="111.50" height="35.10"/></clipPath>
<rect x="12.5" y="877.3" width="111.50" height="35.10" fill="#bfbfbf"/>
<g clip-path="url(#c4)">
<rect x="20" y="902" width="20" height="8" fill="#000" opacity="0.07" filter="url(#bl3)"/>
<rect x="78" y="902" width="16" height="8" fill="#000" opacity="0.07" filter="url(#bl3)"/>
<rect x="75" y="878" width="21" height="12" fill="#000" opacity="0.05" filter="url(#bl3)"/>
<ellipse cx="29.0" cy="896.2" rx="10.8" ry="2.84" fill="#2b2b2b" opacity="0.66" filter="url(#bl)"/>
<rect x="21.6" y="894.71" width="14.8" height="2.98" rx="1.49" fill="#2b2b2b" opacity="0.47" filter="url(#bl)"/>
<ellipse cx="57.4" cy="896.4" rx="10.5" ry="1.63" fill="#2b2b2b" opacity="0.22" filter="url(#bl)"/>
<rect x="50.2" y="895.59" width="14.4" height="1.61" rx="0.81" fill="#2b2b2b" opacity="0.16" filter="url(#bl)"/>
<ellipse cx="85.5" cy="895.5" rx="8.6" ry="3.50" fill="#2b2b2b" opacity="0.77" filter="url(#bl)"/>
<rect x="79.7" y="893.64" width="11.7" height="3.72" rx="1.86" fill="#2b2b2b" opacity="0.54" filter="url(#bl)"/>
<ellipse cx="109.8" cy="896.0" rx="9.3" ry="1.96" fill="#2b2b2b" opacity="0.36" filter="url(#bl)"/>
<rect x="103.5" y="895.01" width="12.7" height="1.98" rx="0.99" fill="#2b2b2b" opacity="0.25" filter="url(#bl)"/>
</g>
<rect x="12.5" y="877.3" width="111.50" height="35.10" fill="none" stroke="#1c1c1c" stroke-width="1.4"/>
<clipPath id="c5"><rect x="12.5" y="916.2" width="111.50" height="35.30"/></clipPath>
<rect x="12.5" y="916.2" width="111.50" height="35.30" fill="#c9c9c9"/>
<g clip-path="url(#c5)">
<ellipse cx="30.0" cy="934.9" rx="10.5" ry="2.84" fill="#2b2b2b" opacity="0.68" filter="url(#bl)"/>
<rect x="22.8" y="933.41" width="14.4" height="2.98" rx="1.49" fill="#2b2b2b" opacity="0.48" filter="url(#bl)"/>
<ellipse cx="58.1" cy="935.2" rx="9.9" ry="1.57" fill="#2b2b2b" opacity="0.10" filter="url(#bl)"/>
<rect x="51.3" y="934.43" width="13.5" height="1.55" rx="0.78" fill="#2b2b2b" opacity="0.07" filter="url(#bl)"/>
<ellipse cx="86.2" cy="934.3" rx="8.8" ry="2.57" fill="#2b2b2b" opacity="0.59" filter="url(#bl)"/>
<rect x="80.2" y="932.97" width="11.9" height="2.67" rx="1.33" fill="#2b2b2b" opacity="0.42" filter="url(#bl)"/>
<ellipse cx="109.0" cy="935.0" rx="8.5" ry="1.57" fill="#2b2b2b" opacity="0.12" filter="url(#bl)"/>
<rect x="103.2" y="934.23" width="11.5" height="1.55" rx="0.78" fill="#2b2b2b" opacity="0.08" filter="url(#bl)"/>
</g>
<rect x="12.5" y="916.2" width="111.50" height="35.30" fill="none" stroke="#1c1c1c" stroke-width="1.4"/>
<clipPath id="c6"><rect x="12.5" y="954.9" width="111.50" height="35.30"/></clipPath>
<rect x="12.5" y="954.9" width="111.50" height="35.30" fill="#d0d0d0"/>
<g clip-path="url(#c6)">
<ellipse cx="28.5" cy="972.5" rx="12.0" ry="3.39" fill="#2b2b2b" opacity="0.85" filter="url(#bl)"/>
<rect x="20.2" y="970.70" width="16.6" height="3.60" rx="1.80" fill="#2b2b2b" opacity="0.60" filter="url(#bl)"/>
<ellipse cx="57.5" cy="972.0" rx="13.0" ry="3.72" fill="#2b2b2b" opacity="0.85" filter="url(#bl)"/>
<rect x="48.5" y="970.02" width="18.0" height="3.97" rx="1.98" fill="#2b2b2b" opacity="0.60" filter="url(#bl)"/>
<rect x="73.3" y="968.95" width="22.4" height="8.10" rx="4.05" fill="#2b2b2b" opacity="0.92" filter="url(#bl2)"/>
<ellipse cx="84.5" cy="973.0" rx="9.2" ry="2.06" fill="#2b2b2b" opacity="0.50" filter="url(#bl2)"/>
<rect x="97.7" y="968.70" width="24.2" height="8.60" rx="4.30" fill="#2b2b2b" opacity="0.92" filter="url(#bl2)"/>
<ellipse cx="109.8" cy="973.0" rx="9.9" ry="2.20" fill="#2b2b2b" opacity="0.50" filter="url(#bl2)"/>
</g>
<rect x="12.5" y="954.9" width="111.50" height="35.30" fill="none" stroke="#1c1c1c" stroke-width="1.4"/>
<clipPath id="c7"><rect x="12.5" y="993.6" width="111.50" height="35.40"/></clipPath>
<rect x="12.5" y="993.6" width="111.50" height="35.40" fill="#c6c6c6"/>
<g clip-path="url(#c7)">
<rect x="15" y="1008.60" width="109" height="6" rx="3.00" fill="#2b2b2b" opacity="0.55" filter="url(#bl2)"/>
<rect x="13.7" y="1007.00" width="30.6" height="9.60" rx="4.80" fill="#2b2b2b" opacity="0.74" filter="url(#bl2)"/>
<ellipse cx="29.0" cy="1011.8" rx="12.6" ry="2.48" fill="#2b2b2b" opacity="0.40" filter="url(#bl2)"/>
<rect x="41.7" y="1007.50" width="32.6" height="8.60" rx="4.30" fill="#2b2b2b" opacity="0.74" filter="url(#bl2)"/>
<ellipse cx="58.0" cy="1011.8" rx="13.4" ry="2.20" fill="#2b2b2b" opacity="0.40" filter="url(#bl2)"/>
<rect x="71.7" y="1007.30" width="28.6" height="8.60" rx="4.30" fill="#2b2b2b" opacity="0.74" filter="url(#bl2)"/>
<ellipse cx="86.0" cy="1011.6" rx="11.8" ry="2.20" fill="#2b2b2b" opacity="0.40" filter="url(#bl2)"/>
<rect x="96.7" y="1007.15" width="27.6" height="8.10" rx="4.05" fill="#2b2b2b" opacity="0.74" filter="url(#bl2)"/>
<ellipse cx="110.5" cy="1011.2" rx="11.3" ry="2.06" fill="#2b2b2b" opacity="0.40" filter="url(#bl2)"/>
</g>
<rect x="12.5" y="993.6" width="111.50" height="35.40" fill="none" stroke="#1c1c1c" stroke-width="1.4"/>
<line x1="124.00" y1="785.70" x2="129.00" y2="785.70" stroke="#111" stroke-width="1.1" />
<line x1="163.80" y1="785.70" x2="170.40" y2="785.70" stroke="#111" stroke-width="1.1" />
<text x="147.40" y="788.80" font-size="8.6" text-anchor="middle" fill="#1a1a1a" letter-spacing="1.7" stroke="#1a1a1a" stroke-width="0.12" >25</text>
<line x1="124.00" y1="824.10" x2="129.00" y2="824.10" stroke="#111" stroke-width="1.1" />
<line x1="163.80" y1="824.10" x2="170.40" y2="824.10" stroke="#111" stroke-width="1.1" />
<text x="147.40" y="827.20" font-size="8.6" text-anchor="middle" fill="#1a1a1a" letter-spacing="1.7" stroke="#1a1a1a" stroke-width="0.12" >100</text>
<line x1="124.00" y1="862.80" x2="129.00" y2="862.80" stroke="#111" stroke-width="1.1" />
<line x1="163.80" y1="862.80" x2="170.40" y2="862.80" stroke="#111" stroke-width="1.1" />
<text x="147.40" y="865.90" font-size="8.6" text-anchor="middle" fill="#1a1a1a" letter-spacing="1.7" stroke="#1a1a1a" stroke-width="0.12" >50</text>
<line x1="124.00" y1="891.40" x2="129.00" y2="891.40" stroke="#111" stroke-width="1.1" />
<line x1="163.80" y1="891.40" x2="170.40" y2="891.40" stroke="#111" stroke-width="1.1" />
<text x="147.40" y="894.50" font-size="8.6" text-anchor="middle" fill="#1a1a1a" letter-spacing="1.7" stroke="#1a1a1a" stroke-width="0.12" >50</text>
<line x1="124.00" y1="927.40" x2="129.00" y2="927.40" stroke="#111" stroke-width="1.1" />
<line x1="163.80" y1="927.40" x2="170.40" y2="927.40" stroke="#111" stroke-width="1.1" />
<text x="147.40" y="930.50" font-size="8.6" text-anchor="middle" fill="#1a1a1a" letter-spacing="1.7" stroke="#1a1a1a" stroke-width="0.12" >37</text>
<line x1="124.00" y1="973.10" x2="129.00" y2="973.10" stroke="#111" stroke-width="1.1" />
<line x1="163.80" y1="973.10" x2="170.40" y2="973.10" stroke="#111" stroke-width="1.1" />
<text x="147.40" y="976.20" font-size="8.6" text-anchor="middle" fill="#1a1a1a" letter-spacing="1.7" stroke="#1a1a1a" stroke-width="0.12" >37</text>
<line x1="124.00" y1="1021.20" x2="129.00" y2="1021.20" stroke="#111" stroke-width="1.1" />
<line x1="163.80" y1="1021.20" x2="170.40" y2="1021.20" stroke="#111" stroke-width="1.1" />
<text x="147.40" y="1024.30" font-size="8.6" text-anchor="middle" fill="#1a1a1a" letter-spacing="1.7" stroke="#1a1a1a" stroke-width="0.12" >50</text>
<clipPath id="c8"><rect x="170.4" y="760.4" width="111.70" height="34.90"/></clipPath>
<rect x="170.4" y="760.4" width="111.70" height="34.90" fill="#d1d1d1"/>
<g clip-path="url(#c8)">
<ellipse cx="184.3" cy="779.2" rx="8.8" ry="2.51" fill="#2b2b2b" opacity="0.61" filter="url(#bl)"/>
<rect x="178.3" y="777.90" width="12.0" height="2.60" rx="1.30" fill="#2b2b2b" opacity="0.43" filter="url(#bl)"/>
<rect x="198.4" y="774.15" width="24.7" height="10.10" rx="5.05" fill="#2b2b2b" opacity="0.92" filter="url(#bl2)"/>
<ellipse cx="210.8" cy="779.2" rx="10.1" ry="2.61" fill="#2b2b2b" opacity="0.50" filter="url(#bl2)"/>
<ellipse cx="235.7" cy="779.6" rx="9.8" ry="2.51" fill="#2b2b2b" opacity="0.61" filter="url(#bl)"/>
<rect x="228.9" y="778.30" width="13.5" height="2.60" rx="1.30" fill="#2b2b2b" opacity="0.43" filter="url(#bl)"/>
<ellipse cx="263.8" cy="779.0" rx="12.1" ry="2.95" fill="#2b2b2b" opacity="0.68" filter="url(#bl)"/>
<rect x="255.4" y="777.45" width="16.7" height="3.10" rx="1.55" fill="#2b2b2b" opacity="0.48" filter="url(#bl)"/>
</g>
<rect x="170.4" y="760.4" width="111.70" height="34.90" fill="none" stroke="#1c1c1c" stroke-width="1.4"/>
<clipPath id="c9"><rect x="170.4" y="799.4" width="111.70" height="35.40"/></clipPath>
<rect x="170.4" y="799.4" width="111.70" height="35.40" fill="#d6d6d6"/>
<g clip-path="url(#c9)">
<rect x="180" y="800" width="17" height="16" fill="#000" opacity="0.1" filter="url(#bl3)"/>
<rect x="178" y="824" width="20" height="4" fill="#000" opacity="0.06" filter="url(#bl3)"/>
<ellipse cx="188.1" cy="820.0" rx="11.2" ry="3.23" fill="#2b2b2b" opacity="0.77" filter="url(#bl)"/>
<rect x="180.4" y="818.29" width="15.4" height="3.41" rx="1.71" fill="#2b2b2b" opacity="0.54" filter="url(#bl)"/>
<ellipse cx="213.4" cy="819.2" rx="9.9" ry="1.74" fill="#2b2b2b" opacity="0.53" filter="url(#bl)"/>
<rect x="206.6" y="818.33" width="13.5" height="1.74" rx="0.87" fill="#2b2b2b" opacity="0.37" filter="url(#bl)"/>
<ellipse cx="239.6" cy="819.6" rx="10.5" ry="1.96" fill="#2b2b2b" opacity="0.64" filter="url(#bl)"/>
<rect x="232.3" y="818.61" width="14.5" height="1.98" rx="0.99" fill="#2b2b2b" opacity="0.45" filter="url(#bl)"/>
</g>
<rect x="170.4" y="799.4" width="111.70" height="35.40" fill="none" stroke="#1c1c1c" stroke-width="1.4"/>
<clipPath id="c10"><rect x="170.4" y="838.2" width="111.70" height="35.00"/></clipPath>
<rect x="170.4" y="838.2" width="111.70" height="35.00" fill="#d2d2d2"/>
<g clip-path="url(#c10)">
<ellipse cx="186.8" cy="857.9" rx="10.7" ry="3.23" fill="#2b2b2b" opacity="0.81" filter="url(#bl)"/>
<rect x="179.4" y="856.19" width="14.6" height="3.41" rx="1.71" fill="#2b2b2b" opacity="0.57" filter="url(#bl)"/>
<ellipse cx="212.8" cy="857.6" rx="10.5" ry="1.74" fill="#2b2b2b" opacity="0.47" filter="url(#bl)"/>
<rect x="205.6" y="856.73" width="14.4" height="1.74" rx="0.87" fill="#2b2b2b" opacity="0.33" filter="url(#bl)"/>
<ellipse cx="238.9" cy="857.2" rx="11.2" ry="3.23" fill="#2b2b2b" opacity="0.81" filter="url(#bl)"/>
<rect x="231.2" y="855.50" width="15.4" height="3.41" rx="1.71" fill="#2b2b2b" opacity="0.57" filter="url(#bl)"/>
<ellipse cx="265.2" cy="857.2" rx="10.8" ry="1.74" fill="#2b2b2b" opacity="0.42" filter="url(#bl)"/>
<rect x="257.8" y="856.33" width="14.8" height="1.74" rx="0.87" fill="#2b2b2b" opacity="0.30" filter="url(#bl)"/>
</g>
<rect x="170.4" y="838.2" width="111.70" height="35.00" fill="none" stroke="#1c1c1c" stroke-width="1.4"/>
<clipPath id="c11"><rect x="170.4" y="877.3" width="111.70" height="35.10"/></clipPath>
<rect x="170.4" y="877.3" width="111.70" height="35.10" fill="#c8c8c8"/>
<g clip-path="url(#c11)">
<rect x="178" y="902" width="18" height="7" fill="#000" opacity="0.05" filter="url(#bl3)"/>
<rect x="204" y="902" width="18" height="7" fill="#000" opacity="0.04" filter="url(#bl3)"/>
<rect x="231" y="902" width="19" height="7" fill="#000" opacity="0.05" filter="url(#bl3)"/>
<ellipse cx="186.7" cy="894.9" rx="9.8" ry="2.68" fill="#2b2b2b" opacity="0.61" filter="url(#bl)"/>
<rect x="180.0" y="893.50" width="13.4" height="2.79" rx="1.40" fill="#2b2b2b" opacity="0.43" filter="url(#bl)"/>
<ellipse cx="213.1" cy="895.2" rx="10.2" ry="1.96" fill="#2b2b2b" opacity="0.36" filter="url(#bl)"/>
<rect x="206.0" y="894.21" width="14.0" height="1.98" rx="0.99" fill="#2b2b2b" opacity="0.25" filter="url(#bl)"/>
<ellipse cx="240.2" cy="893.3" rx="9.9" ry="3.23" fill="#2b2b2b" opacity="0.77" filter="url(#bl)"/>
<rect x="233.4" y="891.59" width="13.5" height="3.41" rx="1.71" fill="#2b2b2b" opacity="0.54" filter="url(#bl)"/>
<ellipse cx="265.6" cy="893.4" rx="11.2" ry="1.96" fill="#2b2b2b" opacity="0.42" filter="url(#bl)"/>
<rect x="258.0" y="892.41" width="15.3" height="1.98" rx="0.99" fill="#2b2b2b" opacity="0.30" filter="url(#bl)"/>
</g>
<rect x="170.4" y="877.3" width="111.70" height="35.10" fill="none" stroke="#1c1c1c" stroke-width="1.4"/>
<clipPath id="c12"><rect x="170.4" y="916.2" width="111.70" height="35.30"/></clipPath>
<rect x="170.4" y="916.2" width="111.70" height="35.30" fill="#cdcdcd"/>
<g clip-path="url(#c12)">
<ellipse cx="189.1" cy="934.8" rx="11.0" ry="2.29" fill="#2b2b2b" opacity="0.53" filter="url(#bl)"/>
<rect x="181.6" y="933.62" width="15.0" height="2.36" rx="1.18" fill="#2b2b2b" opacity="0.37" filter="url(#bl)"/>
<ellipse cx="215.1" cy="935.6" rx="9.6" ry="1.63" fill="#2b2b2b" opacity="0.17" filter="url(#bl)"/>
<rect x="208.5" y="934.79" width="13.1" height="1.61" rx="0.81" fill="#2b2b2b" opacity="0.12" filter="url(#bl)"/>
<ellipse cx="241.2" cy="935.2" rx="10.2" ry="2.51" fill="#2b2b2b" opacity="0.59" filter="url(#bl)"/>
<rect x="234.3" y="933.90" width="13.9" height="2.60" rx="1.30" fill="#2b2b2b" opacity="0.42" filter="url(#bl)"/>
<ellipse cx="267.0" cy="935.6" rx="9.8" ry="1.63" fill="#2b2b2b" opacity="0.17" filter="url(#bl)"/>
<rect x="260.2" y="934.79" width="13.5" height="1.61" rx="0.81" fill="#2b2b2b" opacity="0.12" filter="url(#bl)"/>
</g>
<rect x="170.4" y="916.2" width="111.70" height="35.30" fill="none" stroke="#1c1c1c" stroke-width="1.4"/>
<clipPath id="c13"><rect x="170.4" y="954.9" width="111.70" height="35.30"/></clipPath>
<rect x="170.4" y="954.9" width="111.70" height="35.30" fill="#d0d0d0"/>
<g clip-path="url(#c13)">
<ellipse cx="184.1" cy="972.9" rx="11.2" ry="3.61" fill="#2b2b2b" opacity="0.85" filter="url(#bl)"/>
<rect x="176.4" y="970.98" width="15.4" height="3.84" rx="1.92" fill="#2b2b2b" opacity="0.60" filter="url(#bl)"/>
<ellipse cx="210.8" cy="972.6" rx="11.7" ry="3.78" fill="#2b2b2b" opacity="0.85" filter="url(#bl)"/>
<rect x="202.7" y="970.59" width="16.1" height="4.03" rx="2.02" fill="#2b2b2b" opacity="0.60" filter="url(#bl)"/>
<ellipse cx="236.2" cy="972.9" rx="11.2" ry="3.72" fill="#2b2b2b" opacity="0.85" filter="url(#bl)"/>
<rect x="228.5" y="970.92" width="15.4" height="3.97" rx="1.98" fill="#2b2b2b" opacity="0.60" filter="url(#bl)"/>
<ellipse cx="264.2" cy="971.8" rx="12.6" ry="3.50" fill="#2b2b2b" opacity="0.85" filter="url(#bl)"/>
<rect x="255.6" y="969.94" width="17.4" height="3.72" rx="1.86" fill="#2b2b2b" opacity="0.60" filter="url(#bl)"/>
</g>
<rect x="170.4" y="954.9" width="111.70" height="35.30" fill="none" stroke="#1c1c1c" stroke-width="1.4"/>
<clipPath id="c14"><rect x="170.4" y="993.6" width="111.70" height="35.40"/></clipPath>
<rect x="170.4" y="993.6" width="111.70" height="35.40" fill="#cccccc"/>
<g clip-path="url(#c14)">
<rect x="172" y="1007.65" width="107" height="5.5" rx="2.75" fill="#2b2b2b" opacity="0.55" filter="url(#bl2)"/>
<rect x="171.2" y="1006.55" width="28.1" height="8.10" rx="4.05" fill="#2b2b2b" opacity="0.74" filter="url(#bl2)"/>
<ellipse cx="185.2" cy="1010.6" rx="11.5" ry="2.06" fill="#2b2b2b" opacity="0.40" filter="url(#bl2)"/>
<rect x="196.7" y="1006.75" width="29.6" height="8.10" rx="4.05" fill="#2b2b2b" opacity="0.74" filter="url(#bl2)"/>
<ellipse cx="211.5" cy="1010.8" rx="12.2" ry="2.06" fill="#2b2b2b" opacity="0.40" filter="url(#bl2)"/>
<rect x="223.7" y="1006.35" width="28.6" height="8.10" rx="4.05" fill="#2b2b2b" opacity="0.74" filter="url(#bl2)"/>
<ellipse cx="238.0" cy="1010.4" rx="11.8" ry="2.06" fill="#2b2b2b" opacity="0.40" filter="url(#bl2)"/>
<rect x="249.7" y="1005.55" width="30.1" height="8.10" rx="4.05" fill="#2b2b2b" opacity="0.74" filter="url(#bl2)"/>
<ellipse cx="264.8" cy="1009.6" rx="12.4" ry="2.06" fill="#2b2b2b" opacity="0.40" filter="url(#bl2)"/>
</g>
<rect x="170.4" y="993.6" width="111.70" height="35.40" fill="none" stroke="#1c1c1c" stroke-width="1.4"/>
<text x="285.60" y="782.90" font-size="8.5" text-anchor="start" fill="#1a1a1a" letter-spacing="0.95" stroke="#1a1a1a" stroke-width="0.12" >P27</text>
<text x="285.60" y="822.20" font-size="8.5" text-anchor="start" fill="#1a1a1a" letter-spacing="0.95" stroke="#1a1a1a" stroke-width="0.12" >pRB</text>
<text x="285.60" y="860.10" font-size="8.5" text-anchor="start" fill="#1a1a1a" letter-spacing="0.95" stroke="#1a1a1a" stroke-width="0.12" >CCNB1</text>
<text x="285.60" y="897.80" font-size="8.5" text-anchor="start" fill="#1a1a1a" letter-spacing="0.95" stroke="#1a1a1a" stroke-width="0.12" >CCNE1</text>
<text x="285.60" y="940.00" font-size="8.5" text-anchor="start" fill="#1a1a1a" letter-spacing="0.95" stroke="#1a1a1a" stroke-width="0.12" >CCND1</text>
<text x="285.60" y="975.70" font-size="8.5" text-anchor="start" fill="#1a1a1a" letter-spacing="0.95" stroke="#1a1a1a" stroke-width="0.12" >CDK6</text>
<text x="285.60" y="1015.80" font-size="8.5" text-anchor="start" fill="#1a1a1a" letter-spacing="0.95" stroke="#1a1a1a" stroke-width="0.2">TUBULIN</text>
<text x="345.00" y="674.00" font-size="16" text-anchor="start" fill="#000" font-weight="bold" >E</text>
<text x="493.60" y="679.80" font-size="7.9" text-anchor="middle" fill="#1a1a1a" letter-spacing="0.9" stroke="#1a1a1a" stroke-width="0.12" >SK-N-AS</text>
<text x="494.00" y="754.30" font-size="8.5" text-anchor="middle" fill="#1a1a1a" letter-spacing="1.0" stroke="#1a1a1a" stroke-width="0.12" >kDa</text>
<text x="385.30" y="690.60" font-size="8.5" text-anchor="middle" fill="#1a1a1a" letter-spacing="1.4" stroke="#1a1a1a" stroke-width="0.12" >72h</text>
<line x1="367.20" y1="693.00" x2="400.40" y2="693.00" stroke="#111" stroke-width="1.3" />
<text x="442.00" y="690.60" font-size="8.5" text-anchor="middle" fill="#1a1a1a" letter-spacing="1.4" stroke="#1a1a1a" stroke-width="0.12" >96h</text>
<line x1="424.10" y1="693.00" x2="457.30" y2="693.00" stroke="#111" stroke-width="1.3" />
<text x="371.00" y="757.20" font-size="8.5" text-anchor="start" fill="#1a1a1a" letter-spacing="0.85" stroke="#1a1a1a" stroke-width="0.12" transform="rotate(-90 371.00 757.20)" >miR-Control</text>
<text x="398.40" y="757.20" font-size="8.5" text-anchor="start" fill="#1a1a1a" letter-spacing="0.85" stroke="#1a1a1a" stroke-width="0.12" transform="rotate(-90 398.40 757.20)" >miR-323a-5p</text>
<text x="430.90" y="757.20" font-size="8.5" text-anchor="start" fill="#1a1a1a" letter-spacing="0.85" stroke="#1a1a1a" stroke-width="0.12" transform="rotate(-90 430.90 757.20)" >miR-Control</text>
<text x="454.60" y="757.20" font-size="8.5" text-anchor="start" fill="#1a1a1a" letter-spacing="0.85" stroke="#1a1a1a" stroke-width="0.12" transform="rotate(-90 454.60 757.20)" >miR-323a-5p</text>
<text x="548.60" y="690.60" font-size="8.5" text-anchor="middle" fill="#1a1a1a" letter-spacing="1.4" stroke="#1a1a1a" stroke-width="0.12" >72h</text>
<line x1="530.90" y1="693.00" x2="564.00" y2="693.00" stroke="#111" stroke-width="1.3" />
<text x="604.90" y="690.60" font-size="8.5" text-anchor="middle" fill="#1a1a1a" letter-spacing="1.4" stroke="#1a1a1a" stroke-width="0.12" >96h</text>
<line x1="587.00" y1="693.00" x2="619.60" y2="693.00" stroke="#111" stroke-width="1.3" />
<text x="535.20" y="757.20" font-size="8.5" text-anchor="start" fill="#1a1a1a" letter-spacing="0.85" stroke="#1a1a1a" stroke-width="0.12" transform="rotate(-90 535.20 757.20)" >miR-Control</text>
<text x="561.90" y="757.20" font-size="8.5" text-anchor="start" fill="#1a1a1a" letter-spacing="0.85" stroke="#1a1a1a" stroke-width="0.12" transform="rotate(-90 561.90 757.20)" >miR-342-5p</text>
<text x="593.20" y="757.20" font-size="8.5" text-anchor="start" fill="#1a1a1a" letter-spacing="0.85" stroke="#1a1a1a" stroke-width="0.12" transform="rotate(-90 593.20 757.20)" >miR-Control</text>
<text x="619.10" y="757.20" font-size="8.5" text-anchor="start" fill="#1a1a1a" letter-spacing="0.85" stroke="#1a1a1a" stroke-width="0.12" transform="rotate(-90 619.10 757.20)" >miR-342-5p</text>
<clipPath id="c15"><rect x="352.8" y="759.4" width="120.00" height="35.00"/></clipPath>
<rect x="352.8" y="759.4" width="120.00" height="35.00" fill="#cacaca"/>
<g clip-path="url(#c15)">
<rect x="388" y="786" width="20" height="8" fill="#000" opacity="0.1" filter="url(#bl3)"/>
<rect x="443" y="786" width="24" height="7" fill="#000" opacity="0.08" filter="url(#bl3)"/>
<ellipse cx="368.5" cy="778.0" rx="12.3" ry="3.23" fill="#2b2b2b" opacity="0.64" filter="url(#bl)"/>
<rect x="360.0" y="776.29" width="17.1" height="3.41" rx="1.71" fill="#2b2b2b" opacity="0.45" filter="url(#bl)"/>
<rect x="385.1" y="773.75" width="25.6" height="11.10" rx="5.55" fill="#1a1a1a" opacity="0.92" filter="url(#bl2)"/>
<ellipse cx="397.9" cy="779.3" rx="10.5" ry="2.89" fill="#1a1a1a" opacity="0.50" filter="url(#bl2)"/>
<ellipse cx="425.4" cy="777.4" rx="10.5" ry="3.50" fill="#2b2b2b" opacity="0.77" filter="url(#bl)"/>
<rect x="418.2" y="775.54" width="14.4" height="3.72" rx="1.86" fill="#2b2b2b" opacity="0.54" filter="url(#bl)"/>
<rect x="440.1" y="772.45" width="29.7" height="13.10" rx="6.55" fill="#1a1a1a" opacity="0.92" filter="url(#bl2)"/>
<ellipse cx="454.9" cy="779.0" rx="12.2" ry="3.44" fill="#1a1a1a" opacity="0.50" filter="url(#bl2)"/>
</g>
<rect x="352.8" y="759.4" width="120.00" height="35.00" fill="none" stroke="#1c1c1c" stroke-width="1.4"/>
<clipPath id="c16"><rect x="352.8" y="798.2" width="120.00" height="34.90"/></clipPath>
<rect x="352.8" y="798.2" width="120.00" height="34.90" fill="#cdcdcd"/>
<g clip-path="url(#c16)">
<rect x="359.7" y="811.35" width="24.8" height="8.10" rx="4.05" fill="#2b2b2b" opacity="0.92" filter="url(#bl2)"/>
<ellipse cx="372.1" cy="815.4" rx="10.2" ry="2.06" fill="#2b2b2b" opacity="0.50" filter="url(#bl2)"/>
<ellipse cx="400.4" cy="818.2" rx="10.5" ry="1.52" fill="#2b2b2b" opacity="0.38" filter="url(#bl)"/>
<rect x="393.2" y="817.46" width="14.4" height="1.49" rx="0.74" fill="#2b2b2b" opacity="0.27" filter="url(#bl)"/>
<rect x="415.1" y="810.85" width="23.1" height="9.10" rx="4.55" fill="#2b2b2b" opacity="0.92" filter="url(#bl2)"/>
<ellipse cx="426.6" cy="815.4" rx="9.4" ry="2.34" fill="#2b2b2b" opacity="0.50" filter="url(#bl2)"/>
<ellipse cx="454.4" cy="816.3" rx="10.8" ry="1.74" fill="#2b2b2b" opacity="0.42" filter="url(#bl)"/>
<rect x="447.0" y="815.43" width="14.8" height="1.74" rx="0.87" fill="#2b2b2b" opacity="0.30" filter="url(#bl)"/>
<ellipse cx="372.5" cy="801.6" rx="10.0" ry="1.08" fill="#2b2b2b" opacity="0.12" filter="url(#bl)"/>
<rect x="365.7" y="801.10" width="13.7" height="0.99" rx="0.50" fill="#2b2b2b" opacity="0.08" filter="url(#bl)"/>
<ellipse cx="427.5" cy="801.6" rx="9.0" ry="1.08" fill="#2b2b2b" opacity="0.12" filter="url(#bl)"/>
<rect x="421.4" y="801.10" width="12.2" height="0.99" rx="0.50" fill="#2b2b2b" opacity="0.08" filter="url(#bl)"/>
<ellipse cx="455.0" cy="801.6" rx="9.5" ry="1.08" fill="#2b2b2b" opacity="0.07" filter="url(#bl)"/>
<rect x="448.5" y="801.10" width="13.0" height="0.99" rx="0.50" fill="#2b2b2b" opacity="0.05" filter="url(#bl)"/>
</g>
<rect x="352.8" y="798.2" width="120.00" height="34.90" fill="none" stroke="#1c1c1c" stroke-width="1.4"/>
<clipPath id="c17"><rect x="352.8" y="837.4" width="120.00" height="34.90"/></clipPath>
<rect x="352.8" y="837.4" width="120.00" height="34.90" fill="#cacaca"/>
<g clip-path="url(#c17)">
<ellipse cx="374.2" cy="854.9" rx="10.5" ry="1.96" fill="#2b2b2b" opacity="0.58" filter="url(#bl)"/>
<rect x="367.0" y="853.91" width="14.4" height="1.98" rx="0.99" fill="#2b2b2b" opacity="0.41" filter="url(#bl)"/>
<ellipse cx="402.3" cy="855.8" rx="8.6" ry="1.52" fill="#2b2b2b" opacity="0.24" filter="url(#bl)"/>
<rect x="396.5" y="855.06" width="11.7" height="1.49" rx="0.74" fill="#2b2b2b" opacity="0.17" filter="url(#bl)"/>
<ellipse cx="429.5" cy="854.9" rx="10.9" ry="3.06" fill="#2b2b2b" opacity="0.81" filter="url(#bl)"/>
<rect x="422.0" y="853.29" width="15.0" height="3.22" rx="1.61" fill="#2b2b2b" opacity="0.57" filter="url(#bl)"/>
<ellipse cx="457.2" cy="855.6" rx="9.9" ry="1.30" fill="#2b2b2b" opacity="0.10" filter="url(#bl)"/>
<rect x="450.5" y="854.98" width="13.5" height="1.24" rx="0.62" fill="#2b2b2b" opacity="0.07" filter="url(#bl)"/>
<ellipse cx="375.0" cy="866.6" rx="9.5" ry="1.30" fill="#2b2b2b" opacity="0.10" filter="url(#bl)"/>
<rect x="368.5" y="865.98" width="13.0" height="1.24" rx="0.62" fill="#2b2b2b" opacity="0.07" filter="url(#bl)"/>
<ellipse cx="402.0" cy="867.0" rx="9.5" ry="1.41" fill="#2b2b2b" opacity="0.19" filter="url(#bl)"/>
<rect x="395.5" y="866.32" width="13.0" height="1.36" rx="0.68" fill="#2b2b2b" opacity="0.13" filter="url(#bl)"/>
<ellipse cx="429.5" cy="866.6" rx="9.0" ry="1.41" fill="#2b2b2b" opacity="0.17" filter="url(#bl)"/>
<rect x="423.4" y="865.92" width="12.2" height="1.36" rx="0.68" fill="#2b2b2b" opacity="0.12" filter="url(#bl)"/>
<ellipse cx="457.0" cy="866.6" rx="9.5" ry="1.30" fill="#2b2b2b" opacity="0.10" filter="url(#bl)"/>
<rect x="450.5" y="865.98" width="13.0" height="1.24" rx="0.62" fill="#2b2b2b" opacity="0.07" filter="url(#bl)"/>
<ellipse cx="356.8" cy="852.9" rx="1.6" ry="1.30" fill="#2b2b2b" opacity="0.68" filter="url(#bl)"/>
<rect x="356.0" y="852.28" width="1.6" height="1.24" rx="0.62" fill="#2b2b2b" opacity="0.48" filter="url(#bl)"/>
</g>
<rect x="352.8" y="837.4" width="120.00" height="34.90" fill="none" stroke="#1c1c1c" stroke-width="1.4"/>
<clipPath id="c18"><rect x="352.8" y="876.6" width="120.00" height="35.40"/></clipPath>
<rect x="352.8" y="876.6" width="120.00" height="35.40" fill="#c6c6c6"/>
<g clip-path="url(#c18)">
<rect x="390" y="878" width="19" height="12" fill="#000" opacity="0.07" filter="url(#bl3)"/>
<ellipse cx="370.4" cy="895.4" rx="11.8" ry="2.02" fill="#2b2b2b" opacity="0.68" filter="url(#bl)"/>
<rect x="362.3" y="894.38" width="16.2" height="2.05" rx="1.02" fill="#2b2b2b" opacity="0.48" filter="url(#bl)"/>
<ellipse cx="399.8" cy="894.9" rx="11.6" ry="3.50" fill="#2b2b2b" opacity="0.85" filter="url(#bl)"/>
<rect x="391.8" y="893.04" width="16.0" height="3.72" rx="1.86" fill="#2b2b2b" opacity="0.60" filter="url(#bl)"/>
<ellipse cx="427.2" cy="893.6" rx="9.9" ry="2.73" fill="#2b2b2b" opacity="0.78" filter="url(#bl)"/>
<rect x="420.5" y="892.17" width="13.5" height="2.85" rx="1.43" fill="#2b2b2b" opacity="0.55" filter="url(#bl)"/>
<ellipse cx="456.0" cy="894.2" rx="11.2" ry="1.74" fill="#2b2b2b" opacity="0.47" filter="url(#bl)"/>
<rect x="448.3" y="893.33" width="15.3" height="1.74" rx="0.87" fill="#2b2b2b" opacity="0.33" filter="url(#bl)"/>
</g>
<rect x="352.8" y="876.6" width="120.00" height="35.40" fill="none" stroke="#1c1c1c" stroke-width="1.4"/>
<clipPath id="c19"><rect x="352.8" y="915.7" width="120.00" height="35.40"/></clipPath>
<rect x="352.8" y="915.7" width="120.00" height="35.40" fill="#c4c4c4"/>
<g clip-path="url(#c19)">
<ellipse cx="372.4" cy="933.0" rx="12.3" ry="3.06" fill="#2b2b2b" opacity="0.78" filter="url(#bl)"/>
<rect x="363.8" y="931.39" width="17.1" height="3.22" rx="1.61" fill="#2b2b2b" opacity="0.55" filter="url(#bl)"/>
<ellipse cx="400.8" cy="934.4" rx="9.6" ry="1.74" fill="#2b2b2b" opacity="0.47" filter="url(#bl)"/>
<rect x="394.2" y="933.53" width="13.1" height="1.74" rx="0.87" fill="#2b2b2b" opacity="0.33" filter="url(#bl)"/>
<ellipse cx="428.5" cy="933.0" rx="11.1" ry="3.78" fill="#2b2b2b" opacity="0.85" filter="url(#bl)"/>
<rect x="420.9" y="930.99" width="15.3" height="4.03" rx="2.02" fill="#2b2b2b" opacity="0.60" filter="url(#bl)"/>
<ellipse cx="456.6" cy="933.6" rx="10.5" ry="1.41" fill="#2b2b2b" opacity="0.17" filter="url(#bl)"/>
<rect x="449.4" y="932.92" width="14.4" height="1.36" rx="0.68" fill="#2b2b2b" opacity="0.12" filter="url(#bl)"/>
</g>
<rect x="352.8" y="915.7" width="120.00" height="35.40" fill="none" stroke="#1c1c1c" stroke-width="1.4"/>
<clipPath id="c20"><rect x="352.8" y="954.4" width="120.00" height="35.40"/></clipPath>
<rect x="352.8" y="954.4" width="120.00" height="35.40" fill="#c6c6c6"/>
<g clip-path="url(#c20)">
<ellipse cx="371.1" cy="972.5" rx="11.1" ry="1.96" fill="#2b2b2b" opacity="0.70" filter="url(#bl)"/>
<rect x="363.5" y="971.51" width="15.3" height="1.98" rx="0.99" fill="#2b2b2b" opacity="0.49" filter="url(#bl)"/>
<ellipse cx="399.3" cy="974.0" rx="11.1" ry="2.29" fill="#2b2b2b" opacity="0.77" filter="url(#bl)"/>
<rect x="391.7" y="972.82" width="15.3" height="2.36" rx="1.18" fill="#2b2b2b" opacity="0.54" filter="url(#bl)"/>
<ellipse cx="427.6" cy="973.0" rx="10.8" ry="2.57" fill="#2b2b2b" opacity="0.81" filter="url(#bl)"/>
<rect x="420.3" y="971.67" width="14.8" height="2.67" rx="1.33" fill="#2b2b2b" opacity="0.57" filter="url(#bl)"/>
<ellipse cx="455.9" cy="972.4" rx="11.8" ry="2.18" fill="#2b2b2b" opacity="0.72" filter="url(#bl)"/>
<rect x="447.8" y="971.28" width="16.2" height="2.23" rx="1.12" fill="#2b2b2b" opacity="0.51" filter="url(#bl)"/>
</g>
<rect x="352.8" y="954.4" width="120.00" height="35.40" fill="none" stroke="#1c1c1c" stroke-width="1.4"/>
<clipPath id="c21"><rect x="352.8" y="993.2" width="120.00" height="35.80"/></clipPath>
<rect x="352.8" y="993.2" width="120.00" height="35.80" fill="#c2c2c2"/>
<g clip-path="url(#c21)">
<rect x="357" y="1008.15" width="113" height="6.5" rx="3.25" fill="#2b2b2b" opacity="0.55" filter="url(#bl2)"/>
<rect x="356.2" y="1007.00" width="30.1" height="9.60" rx="4.80" fill="#2b2b2b" opacity="0.74" filter="url(#bl2)"/>
<ellipse cx="371.2" cy="1011.8" rx="12.4" ry="2.48" fill="#2b2b2b" opacity="0.40" filter="url(#bl2)"/>
<rect x="383.7" y="1007.65" width="31.6" height="9.10" rx="4.55" fill="#2b2b2b" opacity="0.74" filter="url(#bl2)"/>
<ellipse cx="399.5" cy="1012.2" rx="13.0" ry="2.34" fill="#2b2b2b" opacity="0.40" filter="url(#bl2)"/>
<rect x="412.7" y="1006.45" width="30.6" height="9.10" rx="4.55" fill="#2b2b2b" opacity="0.74" filter="url(#bl2)"/>
<ellipse cx="428.0" cy="1011.0" rx="12.6" ry="2.34" fill="#2b2b2b" opacity="0.40" filter="url(#bl2)"/>
<rect x="440.7" y="1006.25" width="30.1" height="9.10" rx="4.55" fill="#2b2b2b" opacity="0.74" filter="url(#bl2)"/>
<ellipse cx="455.8" cy="1010.8" rx="12.4" ry="2.34" fill="#2b2b2b" opacity="0.40" filter="url(#bl2)"/>
</g>
<rect x="352.8" y="993.2" width="120.00" height="35.80" fill="none" stroke="#1c1c1c" stroke-width="1.4"/>
<line x1="472.80" y1="785.70" x2="477.80" y2="785.70" stroke="#111" stroke-width="1.1" />
<line x1="510.20" y1="785.70" x2="515.40" y2="785.70" stroke="#111" stroke-width="1.1" />
<text x="494.70" y="788.80" font-size="8.6" text-anchor="middle" fill="#1a1a1a" letter-spacing="1.7" stroke="#1a1a1a" stroke-width="0.12" >25</text>
<line x1="472.80" y1="824.10" x2="477.80" y2="824.10" stroke="#111" stroke-width="1.1" />
<line x1="510.20" y1="824.10" x2="515.40" y2="824.10" stroke="#111" stroke-width="1.1" />
<text x="494.70" y="827.20" font-size="8.6" text-anchor="middle" fill="#1a1a1a" letter-spacing="1.7" stroke="#1a1a1a" stroke-width="0.12" >100</text>
<line x1="472.80" y1="862.80" x2="477.80" y2="862.80" stroke="#111" stroke-width="1.1" />
<line x1="510.20" y1="862.80" x2="515.40" y2="862.80" stroke="#111" stroke-width="1.1" />
<text x="494.70" y="865.90" font-size="8.6" text-anchor="middle" fill="#1a1a1a" letter-spacing="1.7" stroke="#1a1a1a" stroke-width="0.12" >50</text>
<line x1="472.80" y1="889.70" x2="477.80" y2="889.70" stroke="#111" stroke-width="1.1" />
<line x1="510.20" y1="889.70" x2="515.40" y2="889.70" stroke="#111" stroke-width="1.1" />
<text x="494.70" y="892.80" font-size="8.6" text-anchor="middle" fill="#1a1a1a" letter-spacing="1.7" stroke="#1a1a1a" stroke-width="0.12" >50</text>
<line x1="472.80" y1="927.50" x2="477.80" y2="927.50" stroke="#111" stroke-width="1.1" />
<line x1="510.20" y1="927.50" x2="515.40" y2="927.50" stroke="#111" stroke-width="1.1" />
<text x="494.70" y="930.60" font-size="8.6" text-anchor="middle" fill="#1a1a1a" letter-spacing="1.7" stroke="#1a1a1a" stroke-width="0.12" >37</text>
<line x1="472.80" y1="973.00" x2="477.80" y2="973.00" stroke="#111" stroke-width="1.1" />
<line x1="510.20" y1="973.00" x2="515.40" y2="973.00" stroke="#111" stroke-width="1.1" />
<text x="494.70" y="976.10" font-size="8.6" text-anchor="middle" fill="#1a1a1a" letter-spacing="1.7" stroke="#1a1a1a" stroke-width="0.12" >37</text>
<line x1="472.80" y1="1021.30" x2="477.80" y2="1021.30" stroke="#111" stroke-width="1.1" />
<line x1="510.20" y1="1021.30" x2="515.40" y2="1021.30" stroke="#111" stroke-width="1.1" />
<text x="494.70" y="1024.40" font-size="8.6" text-anchor="middle" fill="#1a1a1a" letter-spacing="1.7" stroke="#1a1a1a" stroke-width="0.12" >50</text>
<clipPath id="c22"><rect x="515.4" y="758.8" width="119.40" height="35.60"/></clipPath>
<rect x="515.4" y="758.8" width="119.40" height="35.60" fill="#c8c8c8"/>
<g clip-path="url(#c22)">
<rect x="519.1" y="774.60" width="25.4" height="7.60" rx="3.80" fill="#2b2b2b" opacity="0.92" filter="url(#bl2)"/>
<ellipse cx="531.8" cy="778.4" rx="10.4" ry="1.93" fill="#2b2b2b" opacity="0.50" filter="url(#bl2)"/>
<rect x="549.8" y="773.85" width="24.6" height="8.10" rx="4.05" fill="#2b2b2b" opacity="0.92" filter="url(#bl2)"/>
<ellipse cx="562.1" cy="777.9" rx="10.1" ry="2.06" fill="#2b2b2b" opacity="0.50" filter="url(#bl2)"/>
<rect x="579.2" y="774.10" width="22.0" height="7.60" rx="3.80" fill="#2b2b2b" opacity="0.92" filter="url(#bl2)"/>
<ellipse cx="590.2" cy="777.9" rx="9.0" ry="1.93" fill="#2b2b2b" opacity="0.50" filter="url(#bl2)"/>
<ellipse cx="618.9" cy="778.0" rx="13.2" ry="3.78" fill="#2b2b2b" opacity="0.85" filter="url(#bl)"/>
<rect x="609.8" y="775.99" width="18.3" height="4.03" rx="2.02" fill="#2b2b2b" opacity="0.60" filter="url(#bl)"/>
</g>
<rect x="515.4" y="758.8" width="119.40" height="35.60" fill="none" stroke="#1c1c1c" stroke-width="1.4"/>
<clipPath id="c23"><rect x="515.4" y="797.8" width="119.40" height="35.50"/></clipPath>
<rect x="515.4" y="797.8" width="119.40" height="35.50" fill="#cccccc"/>
<g clip-path="url(#c23)">
<rect x="519.1" y="813.35" width="26.0" height="10.10" rx="5.05" fill="#2b2b2b" opacity="0.92" filter="url(#bl2)"/>
<ellipse cx="532.1" cy="818.4" rx="10.7" ry="2.61" fill="#2b2b2b" opacity="0.50" filter="url(#bl2)"/>
<rect x="549.8" y="814.65" width="24.7" height="9.10" rx="4.55" fill="#2b2b2b" opacity="0.81" filter="url(#bl2)"/>
<ellipse cx="562.2" cy="819.2" rx="10.1" ry="2.34" fill="#2b2b2b" opacity="0.44" filter="url(#bl2)"/>
<rect x="578.7" y="812.75" width="22.5" height="10.10" rx="5.05" fill="#2b2b2b" opacity="0.92" filter="url(#bl2)"/>
<ellipse cx="590.0" cy="817.8" rx="9.2" ry="2.61" fill="#2b2b2b" opacity="0.50" filter="url(#bl2)"/>
<ellipse cx="616.6" cy="818.4" rx="10.8" ry="2.68" fill="#2b2b2b" opacity="0.31" filter="url(#bl)"/>
<rect x="609.2" y="817.00" width="14.8" height="2.79" rx="1.40" fill="#2b2b2b" opacity="0.22" filter="url(#bl)"/>
<ellipse cx="533.5" cy="804.5" rx="10.0" ry="1.30" fill="#2b2b2b" opacity="0.17" filter="url(#bl)"/>
<rect x="526.7" y="803.88" width="13.7" height="1.24" rx="0.62" fill="#2b2b2b" opacity="0.12" filter="url(#bl)"/>
<ellipse cx="562.5" cy="804.8" rx="10.0" ry="1.30" fill="#2b2b2b" opacity="0.13" filter="url(#bl)"/>
<rect x="555.7" y="804.18" width="13.7" height="1.24" rx="0.62" fill="#2b2b2b" opacity="0.09" filter="url(#bl)"/>
<ellipse cx="591.0" cy="804.0" rx="9.5" ry="1.52" fill="#2b2b2b" opacity="0.27" filter="url(#bl)"/>
<rect x="584.5" y="803.26" width="13.0" height="1.49" rx="0.74" fill="#2b2b2b" opacity="0.19" filter="url(#bl)"/>
<ellipse cx="617.0" cy="804.5" rx="9.5" ry="1.19" fill="#2b2b2b" opacity="0.09" filter="url(#bl)"/>
<rect x="610.5" y="803.94" width="13.0" height="1.12" rx="0.56" fill="#2b2b2b" opacity="0.06" filter="url(#bl)"/>
</g>
<rect x="515.4" y="797.8" width="119.40" height="35.50" fill="none" stroke="#1c1c1c" stroke-width="1.4"/>
<clipPath id="c24"><rect x="515.4" y="837.1" width="119.40" height="35.50"/></clipPath>
<rect x="515.4" y="837.1" width="119.40" height="35.50" fill="#cbcbcb"/>
<g clip-path="url(#c24)">
<ellipse cx="534.8" cy="852.6" rx="11.9" ry="2.51" fill="#2b2b2b" opacity="0.77" filter="url(#bl)"/>
<rect x="526.6" y="851.30" width="16.3" height="2.60" rx="1.30" fill="#2b2b2b" opacity="0.54" filter="url(#bl)"/>
<ellipse cx="563.2" cy="853.5" rx="10.9" ry="2.02" fill="#2b2b2b" opacity="0.70" filter="url(#bl)"/>
<rect x="555.7" y="852.48" width="15.0" height="2.05" rx="1.02" fill="#2b2b2b" opacity="0.49" filter="url(#bl)"/>
<ellipse cx="590.7" cy="851.2" rx="11.2" ry="3.06" fill="#2b2b2b" opacity="0.85" filter="url(#bl)"/>
<rect x="583.0" y="849.59" width="15.4" height="3.22" rx="1.61" fill="#2b2b2b" opacity="0.60" filter="url(#bl)"/>
<ellipse cx="617.6" cy="850.6" rx="9.2" ry="1.19" fill="#2b2b2b" opacity="0.12" filter="url(#bl)"/>
<rect x="611.3" y="850.04" width="12.5" height="1.12" rx="0.56" fill="#2b2b2b" opacity="0.08" filter="url(#bl)"/>
<ellipse cx="534.5" cy="864.0" rx="11.0" ry="1.52" fill="#2b2b2b" opacity="0.21" filter="url(#bl)"/>
<rect x="526.9" y="863.26" width="15.1" height="1.49" rx="0.74" fill="#2b2b2b" opacity="0.15" filter="url(#bl)"/>
<ellipse cx="563.0" cy="864.2" rx="10.5" ry="1.52" fill="#2b2b2b" opacity="0.26" filter="url(#bl)"/>
<rect x="555.8" y="863.46" width="14.4" height="1.49" rx="0.74" fill="#2b2b2b" opacity="0.18" filter="url(#bl)"/>
<ellipse cx="591.0" cy="864.0" rx="9.5" ry="1.30" fill="#2b2b2b" opacity="0.10" filter="url(#bl)"/>
<rect x="584.5" y="863.38" width="13.0" height="1.24" rx="0.62" fill="#2b2b2b" opacity="0.07" filter="url(#bl)"/>
</g>
<rect x="515.4" y="837.1" width="119.40" height="35.50" fill="none" stroke="#1c1c1c" stroke-width="1.4"/>
<clipPath id="c25"><rect x="515.4" y="876.7" width="119.40" height="35.40"/></clipPath>
<rect x="515.4" y="876.7" width="119.40" height="35.40" fill="#c8c8c8"/>
<g clip-path="url(#c25)">
<rect x="553" y="900" width="20" height="10" fill="#000" opacity="0.05" filter="url(#bl3)"/>
<ellipse cx="533.4" cy="893.5" rx="11.9" ry="1.96" fill="#2b2b2b" opacity="0.68" filter="url(#bl)"/>
<rect x="525.2" y="892.51" width="16.4" height="1.98" rx="0.99" fill="#2b2b2b" opacity="0.48" filter="url(#bl)"/>
<ellipse cx="563.0" cy="893.0" rx="12.2" ry="3.50" fill="#2b2b2b" opacity="0.85" filter="url(#bl)"/>
<rect x="554.7" y="891.14" width="16.8" height="3.72" rx="1.86" fill="#2b2b2b" opacity="0.60" filter="url(#bl)"/>
<ellipse cx="590.8" cy="892.2" rx="10.6" ry="2.73" fill="#2b2b2b" opacity="0.81" filter="url(#bl)"/>
<rect x="583.6" y="890.77" width="14.5" height="2.85" rx="1.43" fill="#2b2b2b" opacity="0.57" filter="url(#bl)"/>
<ellipse cx="619.2" cy="892.8" rx="11.5" ry="1.96" fill="#2b2b2b" opacity="0.47" filter="url(#bl)"/>
<rect x="611.4" y="891.81" width="15.8" height="1.98" rx="0.99" fill="#2b2b2b" opacity="0.33" filter="url(#bl)"/>
</g>
<rect x="515.4" y="876.7" width="119.40" height="35.40" fill="none" stroke="#1c1c1c" stroke-width="1.4"/>
<clipPath id="c26"><rect x="515.4" y="915.6" width="119.40" height="35.30"/></clipPath>
<rect x="515.4" y="915.6" width="119.40" height="35.30" fill="#c6c6c6"/>
<g clip-path="url(#c26)">
<ellipse cx="535.5" cy="935.4" rx="12.6" ry="3.28" fill="#2b2b2b" opacity="0.85" filter="url(#bl)"/>
<rect x="526.8" y="933.66" width="17.4" height="3.47" rx="1.74" fill="#2b2b2b" opacity="0.60" filter="url(#bl)"/>
<ellipse cx="564.4" cy="935.4" rx="10.8" ry="1.74" fill="#2b2b2b" opacity="0.53" filter="url(#bl)"/>
<rect x="557.0" y="934.53" width="14.8" height="1.74" rx="0.87" fill="#2b2b2b" opacity="0.37" filter="url(#bl)"/>
<ellipse cx="592.0" cy="934.6" rx="11.6" ry="3.50" fill="#2b2b2b" opacity="0.85" filter="url(#bl)"/>
<rect x="584.0" y="932.74" width="16.0" height="3.72" rx="1.86" fill="#2b2b2b" opacity="0.60" filter="url(#bl)"/>
<ellipse cx="619.3" cy="935.4" rx="10.9" ry="1.74" fill="#2b2b2b" opacity="0.38" filter="url(#bl)"/>
<rect x="611.8" y="934.53" width="15.0" height="1.74" rx="0.87" fill="#2b2b2b" opacity="0.27" filter="url(#bl)"/>
</g>
<rect x="515.4" y="915.6" width="119.40" height="35.30" fill="none" stroke="#1c1c1c" stroke-width="1.4"/>
<clipPath id="c27"><rect x="515.4" y="954.3" width="119.40" height="35.30"/></clipPath>
<rect x="515.4" y="954.3" width="119.40" height="35.30" fill="#cacaca"/>
<g clip-path="url(#c27)">
<ellipse cx="532.5" cy="972.3" rx="12.8" ry="3.06" fill="#2b2b2b" opacity="0.85" filter="url(#bl)"/>
<rect x="523.6" y="970.69" width="17.7" height="3.22" rx="1.61" fill="#2b2b2b" opacity="0.60" filter="url(#bl)"/>
<ellipse cx="562.2" cy="972.9" rx="11.9" ry="2.73" fill="#2b2b2b" opacity="0.82" filter="url(#bl)"/>
<rect x="553.9" y="971.47" width="16.5" height="2.85" rx="1.43" fill="#2b2b2b" opacity="0.58" filter="url(#bl)"/>
<ellipse cx="590.0" cy="972.3" rx="10.9" ry="2.29" fill="#2b2b2b" opacity="0.78" filter="url(#bl)"/>
<rect x="582.4" y="971.12" width="15.0" height="2.36" rx="1.18" fill="#2b2b2b" opacity="0.55" filter="url(#bl)"/>
<ellipse cx="619.3" cy="971.5" rx="11.4" ry="1.74" fill="#2b2b2b" opacity="0.51" filter="url(#bl)"/>
<rect x="611.5" y="970.63" width="15.8" height="1.74" rx="0.87" fill="#2b2b2b" opacity="0.36" filter="url(#bl)"/>
</g>
<rect x="515.4" y="954.3" width="119.40" height="35.30" fill="none" stroke="#1c1c1c" stroke-width="1.4"/>
<clipPath id="c28"><rect x="515.4" y="993.6" width="119.40" height="35.00"/></clipPath>
<rect x="515.4" y="993.6" width="119.40" height="35.00" fill="#c6c6c6"/>
<g clip-path="url(#c28)">
<rect x="520" y="1007.75" width="112" height="6.5" rx="3.25" fill="#2b2b2b" opacity="0.55" filter="url(#bl2)"/>
<rect x="518.7" y="1006.80" width="30.6" height="9.60" rx="4.80" fill="#2b2b2b" opacity="0.74" filter="url(#bl2)"/>
<ellipse cx="534.0" cy="1011.6" rx="12.6" ry="2.48" fill="#2b2b2b" opacity="0.40" filter="url(#bl2)"/>
<rect x="546.7" y="1007.00" width="33.6" height="9.60" rx="4.80" fill="#2b2b2b" opacity="0.74" filter="url(#bl2)"/>
<ellipse cx="563.5" cy="1011.8" rx="13.9" ry="2.48" fill="#2b2b2b" opacity="0.40" filter="url(#bl2)"/>
<rect x="577.7" y="1006.00" width="31.6" height="9.60" rx="4.80" fill="#2b2b2b" opacity="0.74" filter="url(#bl2)"/>
<ellipse cx="593.5" cy="1010.8" rx="13.0" ry="2.48" fill="#2b2b2b" opacity="0.40" filter="url(#bl2)"/>
<rect x="605.7" y="1005.10" width="28.1" height="8.60" rx="4.30" fill="#2b2b2b" opacity="0.74" filter="url(#bl2)"/>
<ellipse cx="619.8" cy="1009.4" rx="11.5" ry="2.20" fill="#2b2b2b" opacity="0.40" filter="url(#bl2)"/>
</g>
<rect x="515.4" y="993.6" width="119.40" height="35.00" fill="none" stroke="#1c1c1c" stroke-width="1.4"/>
<text x="643.20" y="781.30" font-size="8.5" text-anchor="start" fill="#1a1a1a" letter-spacing="0.95" stroke="#1a1a1a" stroke-width="0.12" >P27</text>
<text x="643.20" y="822.20" font-size="8.5" text-anchor="start" fill="#1a1a1a" letter-spacing="0.95" stroke="#1a1a1a" stroke-width="0.12" >pRB</text>
<text x="643.20" y="858.30" font-size="8.5" text-anchor="start" fill="#1a1a1a" letter-spacing="0.95" stroke="#1a1a1a" stroke-width="0.12" >CCNB1</text>
<text x="643.20" y="897.80" font-size="8.5" text-anchor="start" fill="#1a1a1a" letter-spacing="0.95" stroke="#1a1a1a" stroke-width="0.12" >CCNE1</text>
<text x="643.20" y="940.00" font-size="8.5" text-anchor="start" fill="#1a1a1a" letter-spacing="0.95" stroke="#1a1a1a" stroke-width="0.12" >CCND1</text>
<text x="643.20" y="975.80" font-size="8.5" text-anchor="start" fill="#1a1a1a" letter-spacing="0.95" stroke="#1a1a1a" stroke-width="0.12" >CDK6</text>
<text x="643.20" y="1015.90" font-size="8.5" text-anchor="start" fill="#1a1a1a" letter-spacing="0.95" stroke="#1a1a1a" stroke-width="0.2">TUBULIN</text>
<path d="M636.2 849.1 L639.8 847.2 L639.8 851.0 Z" fill="#111"/>
</svg>
</body></html>
